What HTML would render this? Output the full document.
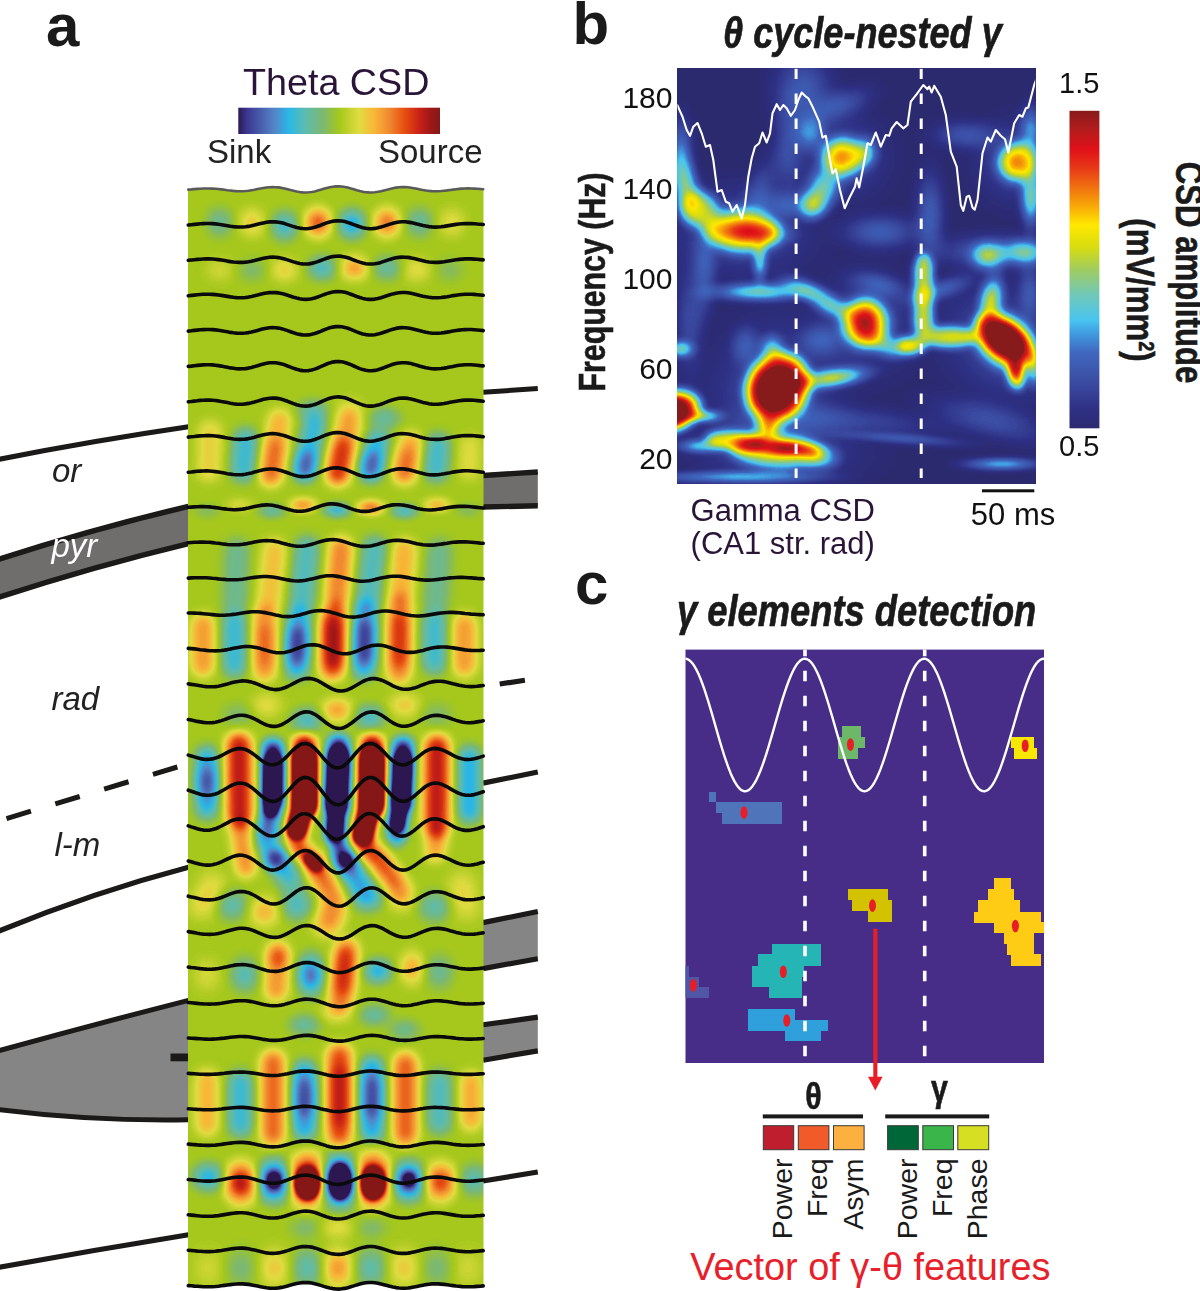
<!DOCTYPE html>
<html><head><meta charset="utf-8"><title>figure</title>
<style>
html,body{margin:0;padding:0;background:#fff;}
body{width:1200px;height:1291px;overflow:hidden;font-family:"Liberation Sans",sans-serif;}
svg{display:block;position:absolute;left:0;top:0;}
text{font-family:"Liberation Sans",sans-serif;}
</style></head><body>
<svg width="1200" height="1291" viewBox="0 0 1200 1291">
<defs>
<filter id="jetA" filterUnits="userSpaceOnUse" x="148.0" y="140.0" width="375.5" height="1195.0" color-interpolation-filters="sRGB">
<feGaussianBlur stdDeviation="1.0"/>
<feComponentTransfer><feFuncR type="table" tableValues="0.176 0.176 0.176 0.176 0.176 0.176 0.176 0.176 0.176 0.176 0.176 0.176 0.176 0.176 0.176 0.176 0.176 0.176 0.176 0.176 0.176 0.176 0.176 0.176 0.176 0.176 0.176 0.176 0.176 0.176 0.176 0.176 0.176 0.176 0.176 0.176 0.176 0.176 0.176 0.176 0.176 0.176 0.176 0.176 0.176 0.176 0.176 0.176 0.176 0.176 0.176 0.189 0.202 0.215 0.227 0.235 0.243 0.250 0.258 0.265 0.273 0.280 0.288 0.296 0.303 0.311 0.318 0.326 0.333 0.308 0.283 0.258 0.232 0.207 0.182 0.157 0.182 0.208 0.233 0.259 0.284 0.310 0.335 0.361 0.375 0.390 0.404 0.418 0.433 0.447 0.461 0.476 0.490 0.509 0.528 0.548 0.567 0.586 0.605 0.624 0.643 0.667 0.690 0.714 0.737 0.761 0.784 0.808 0.831 0.855 0.878 0.892 0.905 0.919 0.932 0.946 0.959 0.973 0.969 0.965 0.961 0.957 0.953 0.949 0.945 0.941 0.937 0.932 0.928 0.923 0.919 0.914 0.910 0.894 0.878 0.863 0.847 0.831 0.816 0.800 0.784 0.753 0.722 0.690 0.659 0.627 0.607 0.587 0.566 0.546 0.525 0.525 0.525 0.525 0.525 0.525 0.525 0.525 0.525 0.525 0.525 0.525 0.525 0.525 0.525 0.525 0.525 0.525 0.525 0.525 0.525 0.525 0.525 0.525 0.525 0.525 0.525 0.525 0.525 0.525 0.525 0.525 0.525 0.525 0.525 0.525 0.525 0.525 0.525 0.525 0.525 0.525 0.525 0.525 0.525 0.525 0.525 0.525 0.525 0.525 0.525"/><feFuncG type="table" tableValues="0.094 0.094 0.094 0.094 0.094 0.094 0.094 0.094 0.094 0.094 0.094 0.094 0.094 0.094 0.094 0.094 0.094 0.094 0.094 0.094 0.094 0.094 0.094 0.094 0.094 0.094 0.094 0.094 0.094 0.094 0.094 0.094 0.094 0.094 0.094 0.094 0.094 0.094 0.094 0.094 0.094 0.094 0.094 0.094 0.094 0.094 0.094 0.094 0.094 0.094 0.094 0.123 0.151 0.179 0.208 0.230 0.253 0.275 0.297 0.320 0.342 0.365 0.387 0.410 0.432 0.454 0.477 0.499 0.522 0.550 0.579 0.607 0.636 0.664 0.693 0.722 0.724 0.725 0.727 0.729 0.731 0.733 0.735 0.737 0.736 0.734 0.732 0.730 0.729 0.727 0.725 0.723 0.722 0.729 0.737 0.745 0.753 0.761 0.769 0.776 0.784 0.792 0.800 0.808 0.816 0.824 0.831 0.839 0.847 0.855 0.863 0.843 0.822 0.802 0.782 0.762 0.742 0.722 0.698 0.675 0.651 0.627 0.604 0.580 0.557 0.533 0.502 0.471 0.439 0.408 0.376 0.345 0.314 0.290 0.267 0.243 0.220 0.196 0.173 0.149 0.125 0.119 0.113 0.107 0.100 0.094 0.094 0.094 0.094 0.094 0.094 0.094 0.094 0.094 0.094 0.094 0.094 0.094 0.094 0.094 0.094 0.094 0.094 0.094 0.094 0.094 0.094 0.094 0.094 0.094 0.094 0.094 0.094 0.094 0.094 0.094 0.094 0.094 0.094 0.094 0.094 0.094 0.094 0.094 0.094 0.094 0.094 0.094 0.094 0.094 0.094 0.094 0.094 0.094 0.094 0.094 0.094 0.094 0.094 0.094 0.094"/><feFuncB type="table" tableValues="0.314 0.314 0.314 0.314 0.314 0.314 0.314 0.314 0.314 0.314 0.314 0.314 0.314 0.314 0.314 0.314 0.314 0.314 0.314 0.314 0.314 0.314 0.314 0.314 0.314 0.314 0.314 0.314 0.314 0.314 0.314 0.314 0.314 0.314 0.314 0.314 0.314 0.314 0.314 0.314 0.314 0.314 0.314 0.314 0.314 0.314 0.314 0.314 0.314 0.314 0.314 0.376 0.439 0.502 0.565 0.580 0.596 0.612 0.627 0.643 0.659 0.675 0.690 0.706 0.722 0.737 0.753 0.769 0.784 0.802 0.820 0.838 0.856 0.874 0.892 0.910 0.882 0.855 0.827 0.800 0.773 0.745 0.718 0.690 0.662 0.634 0.607 0.579 0.551 0.523 0.495 0.467 0.439 0.398 0.357 0.316 0.275 0.233 0.192 0.151 0.110 0.124 0.138 0.152 0.166 0.180 0.195 0.209 0.223 0.237 0.251 0.246 0.242 0.238 0.233 0.229 0.224 0.220 0.216 0.212 0.208 0.204 0.200 0.196 0.192 0.188 0.170 0.152 0.134 0.117 0.099 0.081 0.063 0.067 0.071 0.075 0.078 0.082 0.086 0.090 0.094 0.094 0.094 0.094 0.094 0.094 0.094 0.094 0.094 0.094 0.094 0.094 0.094 0.094 0.094 0.094 0.094 0.094 0.094 0.094 0.094 0.094 0.094 0.094 0.094 0.094 0.094 0.094 0.094 0.094 0.094 0.094 0.094 0.094 0.094 0.094 0.094 0.094 0.094 0.094 0.094 0.094 0.094 0.094 0.094 0.094 0.094 0.094 0.094 0.094 0.094 0.094 0.094 0.094 0.094 0.094 0.094 0.094 0.094 0.094 0.094"/></feComponentTransfer>
</filter>
<filter id="blur5" filterUnits="userSpaceOnUse" x="148.0" y="140.0" width="375.5" height="1195.0" color-interpolation-filters="sRGB"><feGaussianBlur stdDeviation="6"/></filter>
<filter id="blur3" filterUnits="userSpaceOnUse" x="148.0" y="140.0" width="375.5" height="1195.0" color-interpolation-filters="sRGB"><feGaussianBlur stdDeviation="3.6"/></filter>
<radialGradient id="gk"><stop offset="0.0" stop-color="#000" stop-opacity="1.000"/><stop offset="0.1" stop-color="#000" stop-opacity="0.970"/><stop offset="0.2" stop-color="#000" stop-opacity="0.886"/><stop offset="0.3" stop-color="#000" stop-opacity="0.761"/><stop offset="0.4" stop-color="#000" stop-opacity="0.613"/><stop offset="0.5" stop-color="#000" stop-opacity="0.461"/><stop offset="0.6" stop-color="#000" stop-opacity="0.321"/><stop offset="0.7" stop-color="#000" stop-opacity="0.202"/><stop offset="0.8" stop-color="#000" stop-opacity="0.111"/><stop offset="0.9" stop-color="#000" stop-opacity="0.045"/><stop offset="1.0" stop-color="#000" stop-opacity="0.000"/></radialGradient>
<clipPath id="clipa"><path d="M188.0 189.6 191.0 189.4 194.0 189.1 197.0 188.9 200.1 188.7 203.1 188.6 206.1 188.5 209.1 188.5 212.1 188.5 215.1 188.7 218.2 189.0 221.2 189.3 224.2 189.7 227.2 190.1 230.2 190.5 233.2 190.8 236.2 191.1 239.3 191.2 242.3 191.2 245.3 191.0 248.3 190.7 251.3 190.3 254.3 189.7 257.4 189.1 260.4 188.5 263.4 188.0 266.4 187.5 269.4 187.2 272.4 187.1 275.4 187.1 278.5 187.4 281.5 187.9 284.5 188.5 287.5 189.2 290.5 190.0 293.5 190.8 296.6 191.5 299.6 192.0 302.6 192.4 305.6 192.5 308.6 192.3 311.6 192.0 314.6 191.4 317.7 190.6 320.7 189.7 323.7 188.8 326.7 188.0 329.7 187.3 332.7 186.7 335.7 186.4 338.8 186.3 341.8 186.5 344.8 187.0 347.8 187.6 350.8 188.4 353.8 189.3 356.9 190.2 359.9 191.0 362.9 191.7 365.9 192.2 368.9 192.4 371.9 192.5 374.9 192.2 378.0 191.8 381.0 191.2 384.0 190.4 387.0 189.6 390.0 188.9 393.0 188.2 396.1 187.6 399.1 187.3 402.1 187.1 405.1 187.1 408.1 187.3 411.1 187.7 414.1 188.2 417.2 188.8 420.2 189.4 423.2 190.0 426.2 190.5 429.2 190.9 432.2 191.1 435.3 191.2 438.3 191.2 441.3 191.0 444.3 190.7 447.3 190.3 450.3 189.9 453.3 189.5 456.4 189.2 459.4 188.8 462.4 188.6 465.4 188.5 468.4 188.4 471.4 188.5 474.5 188.6 477.5 188.8 480.5 189.0 483.5 189.3 L483.5 1286.5 480.5 1286.8 477.5 1287.0 474.5 1287.2 471.4 1287.3 468.4 1287.4 465.4 1287.3 462.4 1287.2 459.4 1287.0 456.4 1286.6 453.3 1286.2 450.3 1285.8 447.3 1285.4 444.3 1285.0 441.3 1284.7 438.3 1284.5 435.3 1284.4 432.2 1284.5 429.2 1284.8 426.2 1285.2 423.2 1285.7 420.2 1286.3 417.2 1287.0 414.1 1287.6 411.1 1288.1 408.1 1288.5 405.1 1288.8 402.1 1288.8 399.1 1288.6 396.1 1288.2 393.0 1287.7 390.0 1286.9 387.0 1286.1 384.0 1285.3 381.0 1284.5 378.0 1283.8 374.9 1283.4 371.9 1283.1 368.9 1283.1 365.9 1283.4 362.9 1283.9 359.9 1284.6 356.9 1285.5 353.8 1286.5 350.8 1287.4 347.8 1288.3 344.8 1289.0 341.8 1289.4 338.8 1289.7 335.7 1289.6 332.7 1289.2 329.7 1288.6 326.7 1287.9 323.7 1287.0 320.7 1286.0 317.7 1285.1 314.6 1284.3 311.6 1283.6 308.6 1283.2 305.6 1283.1 302.6 1283.2 299.6 1283.6 296.6 1284.1 293.5 1284.9 290.5 1285.7 287.5 1286.5 284.5 1287.3 281.5 1288.0 278.5 1288.5 275.4 1288.8 272.4 1288.8 269.4 1288.7 266.4 1288.4 263.4 1287.9 260.4 1287.3 257.4 1286.7 254.3 1286.0 251.3 1285.4 248.3 1285.0 245.3 1284.6 242.3 1284.5 239.3 1284.4 236.2 1284.6 233.2 1284.8 230.2 1285.2 227.2 1285.6 224.2 1286.0 221.2 1286.4 218.2 1286.8 215.1 1287.1 212.1 1287.3 209.1 1287.4 206.1 1287.4 203.1 1287.3 200.1 1287.1 197.0 1286.9 194.0 1286.6 191.0 1286.4 188.0 1286.1Z"/></clipPath>
<linearGradient id="cbA" x1="0" y1="0" x2="1" y2="0"><stop offset="0.000" stop-color="#2d1850"/><stop offset="0.040" stop-color="#3a3590"/><stop offset="0.180" stop-color="#5585c8"/><stop offset="0.250" stop-color="#28b8e8"/><stop offset="0.330" stop-color="#5cbcb0"/><stop offset="0.420" stop-color="#7db870"/><stop offset="0.500" stop-color="#a4c81c"/><stop offset="0.600" stop-color="#e0dc40"/><stop offset="0.670" stop-color="#f8b838"/><stop offset="0.750" stop-color="#f08830"/><stop offset="0.820" stop-color="#e85010"/><stop offset="0.900" stop-color="#c82018"/><stop offset="0.950" stop-color="#a01818"/><stop offset="1.000" stop-color="#861818"/></linearGradient>
<filter id="jetB" filterUnits="userSpaceOnUse" x="647.5" y="38.7" width="417.70000000000005" height="474.90000000000003" color-interpolation-filters="sRGB">
<feGaussianBlur stdDeviation="1.6"/>
<feComponentTransfer><feFuncR type="table" tableValues="0.169 0.173 0.176 0.180 0.192 0.204 0.216 0.227 0.232 0.237 0.242 0.246 0.251 0.251 0.251 0.251 0.267 0.282 0.322 0.361 0.400 0.439 0.486 0.533 0.580 0.627 0.690 0.753 0.816 0.869 0.913 0.956 1.000 0.991 0.982 0.973 0.962 0.952 0.941 0.931 0.920 0.910 0.899 0.889 0.878 0.821 0.763 0.706 0.648 0.591 0.533 0.533 0.533 0.533 0.533 0.533 0.533 0.533 0.533 0.533 0.533 0.533 0.533 0.533 0.533 0.533 0.533 0.533 0.533 0.533 0.533 0.533 0.533 0.533 0.533 0.533 0.533 0.533 0.533 0.533 0.533 0.533 0.533 0.533 0.533 0.533 0.533 0.533 0.533 0.533 0.533 0.533 0.533 0.533 0.533 0.533 0.533 0.533 0.533 0.533 0.533"/><feFuncG type="table" tableValues="0.165 0.173 0.180 0.188 0.214 0.239 0.265 0.290 0.314 0.337 0.361 0.384 0.408 0.476 0.544 0.612 0.690 0.769 0.773 0.776 0.780 0.784 0.788 0.792 0.796 0.800 0.818 0.836 0.854 0.869 0.883 0.896 0.910 0.826 0.742 0.659 0.586 0.512 0.439 0.366 0.293 0.220 0.167 0.115 0.063 0.078 0.094 0.110 0.107 0.105 0.102 0.102 0.102 0.102 0.102 0.102 0.102 0.102 0.102 0.102 0.102 0.102 0.102 0.102 0.102 0.102 0.102 0.102 0.102 0.102 0.102 0.102 0.102 0.102 0.102 0.102 0.102 0.102 0.102 0.102 0.102 0.102 0.102 0.102 0.102 0.102 0.102 0.102 0.102 0.102 0.102 0.102 0.102 0.102 0.102 0.102 0.102 0.102 0.102 0.102 0.102"/><feFuncB type="table" tableValues="0.439 0.465 0.492 0.518 0.545 0.573 0.600 0.627 0.653 0.678 0.703 0.728 0.753 0.795 0.837 0.878 0.910 0.941 0.886 0.831 0.776 0.722 0.635 0.549 0.463 0.376 0.287 0.197 0.108 0.054 0.036 0.018 0.000 0.010 0.021 0.031 0.042 0.052 0.063 0.073 0.084 0.094 0.094 0.094 0.094 0.099 0.105 0.110 0.107 0.105 0.102 0.102 0.102 0.102 0.102 0.102 0.102 0.102 0.102 0.102 0.102 0.102 0.102 0.102 0.102 0.102 0.102 0.102 0.102 0.102 0.102 0.102 0.102 0.102 0.102 0.102 0.102 0.102 0.102 0.102 0.102 0.102 0.102 0.102 0.102 0.102 0.102 0.102 0.102 0.102 0.102 0.102 0.102 0.102 0.102 0.102 0.102 0.102 0.102 0.102 0.102"/></feComponentTransfer>
</filter>
<filter id="blurB8" filterUnits="userSpaceOnUse" x="637.5" y="28.700000000000003" width="437.70000000000005" height="494.90000000000003" color-interpolation-filters="sRGB"><feGaussianBlur stdDeviation="6"/></filter>
<filter id="blurB4" filterUnits="userSpaceOnUse" x="637.5" y="28.700000000000003" width="437.70000000000005" height="494.90000000000003" color-interpolation-filters="sRGB"><feGaussianBlur stdDeviation="4"/></filter>
<radialGradient id="gw"><stop offset="0.0" stop-color="#fff" stop-opacity="1.000"/><stop offset="0.1" stop-color="#fff" stop-opacity="0.970"/><stop offset="0.2" stop-color="#fff" stop-opacity="0.886"/><stop offset="0.3" stop-color="#fff" stop-opacity="0.761"/><stop offset="0.4" stop-color="#fff" stop-opacity="0.613"/><stop offset="0.5" stop-color="#fff" stop-opacity="0.461"/><stop offset="0.6" stop-color="#fff" stop-opacity="0.321"/><stop offset="0.7" stop-color="#fff" stop-opacity="0.202"/><stop offset="0.8" stop-color="#fff" stop-opacity="0.111"/><stop offset="0.9" stop-color="#fff" stop-opacity="0.045"/><stop offset="1.0" stop-color="#fff" stop-opacity="0.000"/></radialGradient>
<clipPath id="clipb"><rect x="677.5" y="68.7" width="357.70000000000005" height="414.90000000000003"/></clipPath>
<linearGradient id="cbB" x1="0" y1="0" x2="0" y2="1"><stop offset="0.000" stop-color="#881a1a"/><stop offset="0.060" stop-color="#b41c1c"/><stop offset="0.120" stop-color="#e01018"/><stop offset="0.180" stop-color="#e83818"/><stop offset="0.240" stop-color="#f07010"/><stop offset="0.300" stop-color="#f8a808"/><stop offset="0.360" stop-color="#ffe800"/><stop offset="0.430" stop-color="#d8dc10"/><stop offset="0.500" stop-color="#a0cc60"/><stop offset="0.580" stop-color="#70c8b8"/><stop offset="0.660" stop-color="#48c4f0"/><stop offset="0.700" stop-color="#409ce0"/><stop offset="0.760" stop-color="#4068c0"/><stop offset="0.860" stop-color="#3a4aa0"/><stop offset="0.940" stop-color="#2e3084"/><stop offset="1.000" stop-color="#2b2a70"/></linearGradient>
</defs>
<rect x="0" y="0" width="1200" height="1291" fill="#ffffff"/>
<g id="anat">
<path d="M-2 459.5 Q93.25 440.75 188.5 426.8" fill="none" stroke="#1c1a18" stroke-width="5.2" stroke-linecap="butt"/>
<path d="M-2 559.5 Q93.25 528.95 188.5 506.4 L188.5 543.6 Q93.25 566.55 -2 597.5 Z" fill="#6f6e6c"/><path d="M-2 559.5 Q93.25 528.95 188.5 506.4" fill="none" stroke="#1c1a18" stroke-width="5.6"/><path d="M-2 597.5 Q93.25 566.55 188.5 543.6" fill="none" stroke="#1c1a18" stroke-width="5.6"/>
<path d="M6.5 818.6 L177.7 766.9" fill="none" stroke="#1c1a18" stroke-width="5.0" stroke-dasharray="25.5 25.5"/>
<path d="M-2 931.5 Q93.25 892.15 188.5 867.2" fill="none" stroke="#1c1a18" stroke-width="5.2" stroke-linecap="butt"/>
<path d="M-2 1051 Q93.25 1024.65 188.5 1000.3 L188.5 1119.8 Q93.25 1121.45 -2 1109.5 Z" fill="#858585"/><path d="M-2 1051 Q93.25 1024.65 188.5 1000.3" fill="none" stroke="#1c1a18" stroke-width="5"/><path d="M-2 1109.5 Q93.25 1121.45 188.5 1119.8" fill="none" stroke="#1c1a18" stroke-width="5"/>
<rect x="170.5" y="1053.5" width="18" height="7.8" fill="#1c1a18"/>
<path d="M-2 1267.5 Q93.25 1250.1 188.5 1234.7" fill="none" stroke="#1c1a18" stroke-width="5.2" stroke-linecap="butt"/>
<path d="M483 392.3 Q510.4 390.45000000000005 537.8 388.6" fill="none" stroke="#1c1a18" stroke-width="5" stroke-linecap="butt"/>
<path d="M483 475.5 Q510.4 473.75 537.8 472 L537.8 505.8 Q510.4 506.4 483 507 Z" fill="#6f6e6c"/><path d="M483 475.5 Q510.4 473.75 537.8 472" fill="none" stroke="#1c1a18" stroke-width="5.4"/><path d="M483 507 Q510.4 506.4 537.8 505.8" fill="none" stroke="#1c1a18" stroke-width="5.4"/>
<path d="M499.7 684 Q512.3 682.15 524.9 680.3" fill="none" stroke="#1c1a18" stroke-width="5.2" stroke-linecap="butt"/>
<path d="M483 783.1 Q510.4 777.55 537.8 772" fill="none" stroke="#1c1a18" stroke-width="5.2" stroke-linecap="butt"/>
<path d="M483 922.6 Q510.4 917.05 537.8 911.5 L537.8 958.7 Q510.4 963.6500000000001 483 968.6 Z" fill="#858585"/><path d="M483 922.6 Q510.4 917.05 537.8 911.5" fill="none" stroke="#1c1a18" stroke-width="5.2"/><path d="M483 968.6 Q510.4 963.6500000000001 537.8 958.7" fill="none" stroke="#1c1a18" stroke-width="5.2"/>
<path d="M483 1024.8 Q510.4 1020.95 537.8 1017.1 L537.8 1050.9 Q510.4 1055.5500000000002 483 1060.2 Z" fill="#858585"/><path d="M483 1024.8 Q510.4 1020.95 537.8 1017.1" fill="none" stroke="#1c1a18" stroke-width="5.2"/><path d="M483 1060.2 Q510.4 1055.5500000000002 537.8 1050.9" fill="none" stroke="#1c1a18" stroke-width="5.2"/>
<path d="M483 1181 Q510.4 1176.5 537.8 1172" fill="none" stroke="#1c1a18" stroke-width="5.2" stroke-linecap="butt"/>
</g>
<g id="panela" clip-path="url(#clipa)">
<g filter="url(#jetA)">
<rect x="148.0" y="140.0" width="375.5" height="1195.0" fill="#808080"/>
<ellipse cx="219.5" cy="222.5" rx="22.6" ry="25.0" fill="url(#gk)" opacity="0.130"/>
<ellipse cx="252.0" cy="222.5" rx="22.6" ry="25.0" fill="url(#gw)" opacity="0.130"/>
<ellipse cx="284.5" cy="226.0" rx="22.6" ry="25.0" fill="url(#gk)" opacity="0.208"/>
<ellipse cx="318.0" cy="222.5" rx="22.6" ry="25.0" fill="url(#gw)" opacity="0.300"/>
<ellipse cx="352.0" cy="224.0" rx="22.6" ry="25.0" fill="url(#gk)" opacity="0.270"/>
<ellipse cx="387.0" cy="222.5" rx="22.6" ry="25.0" fill="url(#gw)" opacity="0.260"/>
<ellipse cx="419.5" cy="222.5" rx="22.6" ry="25.0" fill="url(#gk)" opacity="0.143"/>
<ellipse cx="452.0" cy="222.5" rx="22.6" ry="25.0" fill="url(#gw)" opacity="0.098"/>
<ellipse cx="322.0" cy="268.0" rx="23.8" ry="21.4" fill="url(#gk)" opacity="0.195"/>
<ellipse cx="354.5" cy="268.0" rx="23.8" ry="21.4" fill="url(#gw)" opacity="0.200"/>
<ellipse cx="387.0" cy="268.0" rx="23.8" ry="21.4" fill="url(#gk)" opacity="0.143"/>
<ellipse cx="284.5" cy="270.0" rx="23.8" ry="21.4" fill="url(#gw)" opacity="0.117"/>
<ellipse cx="252.0" cy="270.0" rx="23.8" ry="21.4" fill="url(#gk)" opacity="0.078"/>
<ellipse cx="417.0" cy="270.0" rx="23.8" ry="21.4" fill="url(#gw)" opacity="0.098"/>
<ellipse cx="219.5" cy="270.0" rx="23.8" ry="21.4" fill="url(#gw)" opacity="0.065"/>
<ellipse cx="450.0" cy="270.0" rx="23.8" ry="21.4" fill="url(#gk)" opacity="0.065"/>
<ellipse cx="313.0" cy="410.0" rx="26.2" ry="19.0" fill="url(#gk)" opacity="0.143"/>
<ellipse cx="385.0" cy="418.0" rx="26.2" ry="19.0" fill="url(#gk)" opacity="0.143"/>
<ellipse cx="349.5" cy="408.0" rx="26.2" ry="19.0" fill="url(#gw)" opacity="0.078"/>
<ellipse cx="303.0" cy="505.0" rx="22.6" ry="13.1" fill="url(#gw)" opacity="0.210"/>
<ellipse cx="337.0" cy="510.0" rx="22.6" ry="13.1" fill="url(#gk)" opacity="0.225"/>
<ellipse cx="370.7" cy="507.5" rx="22.6" ry="13.1" fill="url(#gw)" opacity="0.260"/>
<ellipse cx="404.5" cy="511.0" rx="22.6" ry="13.1" fill="url(#gk)" opacity="0.195"/>
<ellipse cx="437.0" cy="505.0" rx="22.6" ry="13.1" fill="url(#gw)" opacity="0.163"/>
<ellipse cx="272.0" cy="511.0" rx="22.6" ry="13.1" fill="url(#gk)" opacity="0.143"/>
<ellipse cx="239.5" cy="505.0" rx="22.6" ry="13.1" fill="url(#gw)" opacity="0.078"/>
<ellipse cx="207.0" cy="511.0" rx="22.6" ry="13.1" fill="url(#gk)" opacity="0.065"/>
<ellipse cx="468.0" cy="510.0" rx="22.6" ry="13.1" fill="url(#gk)" opacity="0.065"/>
<ellipse cx="337.0" cy="710.0" rx="26.2" ry="21.4" fill="url(#gw)" opacity="0.195"/>
<ellipse cx="404.5" cy="705.0" rx="26.2" ry="21.4" fill="url(#gw)" opacity="0.130"/>
<ellipse cx="307.0" cy="720.0" rx="26.2" ry="21.4" fill="url(#gk)" opacity="0.195"/>
<ellipse cx="369.5" cy="717.0" rx="26.2" ry="21.4" fill="url(#gk)" opacity="0.195"/>
<ellipse cx="267.0" cy="705.0" rx="26.2" ry="21.4" fill="url(#gw)" opacity="0.098"/>
<ellipse cx="237.0" cy="715.0" rx="26.2" ry="21.4" fill="url(#gk)" opacity="0.078"/>
<ellipse cx="437.0" cy="715.0" rx="26.2" ry="21.4" fill="url(#gk)" opacity="0.078"/>
<ellipse cx="207.0" cy="782.0" rx="19.0" ry="28.6" fill="url(#gk)" opacity="0.195"/>
<ellipse cx="304.5" cy="744.0" rx="21.4" ry="19.0" fill="url(#gw)" opacity="0.275"/>
<ellipse cx="372.0" cy="744.0" rx="21.4" ry="19.0" fill="url(#gw)" opacity="0.275"/>
<ellipse cx="338.5" cy="744.0" rx="20.2" ry="19.0" fill="url(#gk)" opacity="0.250"/>
<ellipse cx="403.0" cy="747.0" rx="19.0" ry="19.0" fill="url(#gk)" opacity="0.225"/>
<ellipse cx="273.0" cy="749.0" rx="19.0" ry="19.0" fill="url(#gk)" opacity="0.225"/>
<ellipse cx="299.0" cy="847.0" rx="19.0" ry="21.4" fill="url(#gw)" opacity="0.300" transform="rotate(-30 299 847)"/>
<ellipse cx="313.0" cy="862.0" rx="21.4" ry="23.8" fill="url(#gw)" opacity="0.275" transform="rotate(-40 313 862)"/>
<ellipse cx="344.5" cy="860.0" rx="21.4" ry="23.8" fill="url(#gk)" opacity="0.450" transform="rotate(-35 344.5 860)"/>
<ellipse cx="275.5" cy="859.0" rx="20.2" ry="20.2" fill="url(#gk)" opacity="0.400" transform="rotate(-30 275.5 859)"/>
<ellipse cx="322.0" cy="878.0" rx="21.4" ry="28.6" fill="url(#gw)" opacity="0.250" transform="rotate(-35 322 878)"/>
<ellipse cx="333.0" cy="900.0" rx="23.8" ry="31.0" fill="url(#gw)" opacity="0.225" transform="rotate(-20 333 900)"/>
<ellipse cx="328.0" cy="922.0" rx="26.2" ry="26.2" fill="url(#gw)" opacity="0.208"/>
<ellipse cx="339.0" cy="846.0" rx="14.3" ry="19.0" fill="url(#gk)" opacity="0.300" transform="rotate(-20 339 846)"/>
<ellipse cx="356.0" cy="878.0" rx="23.8" ry="28.6" fill="url(#gk)" opacity="0.275" transform="rotate(-35 356 878)"/>
<ellipse cx="367.5" cy="897.0" rx="26.2" ry="23.8" fill="url(#gk)" opacity="0.250"/>
<ellipse cx="366.0" cy="846.0" rx="19.0" ry="21.4" fill="url(#gw)" opacity="0.275" transform="rotate(-20 366 846)"/>
<ellipse cx="376.0" cy="857.0" rx="21.4" ry="23.8" fill="url(#gw)" opacity="0.250" transform="rotate(-35 376 857)"/>
<ellipse cx="386.0" cy="869.0" rx="21.4" ry="26.2" fill="url(#gw)" opacity="0.210" transform="rotate(-35 386 869)"/>
<ellipse cx="394.0" cy="881.0" rx="21.4" ry="26.2" fill="url(#gw)" opacity="0.180" transform="rotate(-35 394 881)"/>
<ellipse cx="401.0" cy="895.0" rx="23.8" ry="26.2" fill="url(#gw)" opacity="0.170"/>
<ellipse cx="268.0" cy="826.0" rx="19.0" ry="23.8" fill="url(#gk)" opacity="0.300" transform="rotate(-10 268 826)"/>
<ellipse cx="266.0" cy="842.0" rx="23.8" ry="26.2" fill="url(#gk)" opacity="0.225" transform="rotate(-30 266 842)"/>
<ellipse cx="287.0" cy="874.0" rx="23.8" ry="33.3" fill="url(#gk)" opacity="0.225" transform="rotate(-30 287 874)"/>
<ellipse cx="397.0" cy="836.0" rx="16.7" ry="19.0" fill="url(#gk)" opacity="0.250"/>
<ellipse cx="212.0" cy="887.0" rx="26.2" ry="28.6" fill="url(#gw)" opacity="0.098"/>
<ellipse cx="462.0" cy="887.0" rx="26.2" ry="28.6" fill="url(#gw)" opacity="0.098"/>
<ellipse cx="297.0" cy="905.0" rx="26.2" ry="26.2" fill="url(#gk)" opacity="0.195"/>
<ellipse cx="264.5" cy="912.0" rx="26.2" ry="26.2" fill="url(#gw)" opacity="0.163"/>
<ellipse cx="232.0" cy="905.0" rx="26.2" ry="26.2" fill="url(#gk)" opacity="0.163"/>
<ellipse cx="434.5" cy="907.0" rx="26.2" ry="26.2" fill="url(#gk)" opacity="0.163"/>
<ellipse cx="202.0" cy="905.0" rx="26.2" ry="26.2" fill="url(#gw)" opacity="0.098"/>
<ellipse cx="467.0" cy="907.0" rx="26.2" ry="26.2" fill="url(#gw)" opacity="0.078"/>
<ellipse cx="310.7" cy="975.0" rx="22.6" ry="33.3" fill="url(#gk)" opacity="0.350"/>
<ellipse cx="378.0" cy="971.0" rx="23.8" ry="21.4" fill="url(#gk)" opacity="0.250"/>
<ellipse cx="278.0" cy="958.0" rx="19.0" ry="19.0" fill="url(#gw)" opacity="0.130"/>
<ellipse cx="412.0" cy="968.0" rx="21.4" ry="28.6" fill="url(#gw)" opacity="0.175"/>
<ellipse cx="244.5" cy="975.0" rx="23.8" ry="28.6" fill="url(#gk)" opacity="0.182"/>
<ellipse cx="439.5" cy="972.0" rx="23.8" ry="28.6" fill="url(#gk)" opacity="0.130"/>
<ellipse cx="207.0" cy="975.0" rx="23.8" ry="28.6" fill="url(#gw)" opacity="0.078"/>
<ellipse cx="337.0" cy="1012.0" rx="26.2" ry="19.0" fill="url(#gw)" opacity="0.130"/>
<ellipse cx="304.5" cy="1025.0" rx="26.2" ry="19.0" fill="url(#gk)" opacity="0.143"/>
<ellipse cx="374.5" cy="1015.0" rx="26.2" ry="19.0" fill="url(#gk)" opacity="0.143"/>
<ellipse cx="404.5" cy="1030.0" rx="26.2" ry="19.0" fill="url(#gk)" opacity="0.117"/>
<ellipse cx="307.5" cy="1180.0" rx="28.6" ry="40.5" fill="url(#gw)" opacity="0.550"/>
<ellipse cx="373.0" cy="1180.0" rx="28.6" ry="40.5" fill="url(#gw)" opacity="0.550"/>
<ellipse cx="340.0" cy="1181.0" rx="28.6" ry="40.5" fill="url(#gk)" opacity="0.550"/>
<ellipse cx="274.0" cy="1181.0" rx="26.2" ry="33.3" fill="url(#gk)" opacity="0.475"/>
<ellipse cx="408.7" cy="1181.0" rx="26.2" ry="31.0" fill="url(#gk)" opacity="0.450"/>
<ellipse cx="240.7" cy="1183.0" rx="26.2" ry="33.3" fill="url(#gw)" opacity="0.425"/>
<ellipse cx="440.7" cy="1182.0" rx="26.2" ry="31.0" fill="url(#gw)" opacity="0.340"/>
<ellipse cx="208.0" cy="1177.0" rx="26.2" ry="23.8" fill="url(#gk)" opacity="0.250"/>
<ellipse cx="474.5" cy="1180.0" rx="26.2" ry="26.2" fill="url(#gk)" opacity="0.175"/>
<ellipse cx="337.8" cy="1268.0" rx="26.2" ry="33.3" fill="url(#gw)" opacity="0.210"/>
<ellipse cx="307.5" cy="1268.0" rx="26.2" ry="33.3" fill="url(#gk)" opacity="0.165"/>
<ellipse cx="370.8" cy="1268.0" rx="26.2" ry="33.3" fill="url(#gk)" opacity="0.165"/>
<ellipse cx="274.5" cy="1268.0" rx="26.2" ry="33.3" fill="url(#gw)" opacity="0.130"/>
<ellipse cx="403.8" cy="1268.0" rx="26.2" ry="33.3" fill="url(#gw)" opacity="0.130"/>
<ellipse cx="241.0" cy="1268.0" rx="26.2" ry="33.3" fill="url(#gk)" opacity="0.091"/>
<ellipse cx="437.0" cy="1268.0" rx="26.2" ry="33.3" fill="url(#gk)" opacity="0.091"/>
<ellipse cx="208.0" cy="1268.0" rx="26.2" ry="33.3" fill="url(#gw)" opacity="0.065"/>
<ellipse cx="468.0" cy="1268.0" rx="26.2" ry="33.3" fill="url(#gw)" opacity="0.065"/>
<ellipse cx="337.8" cy="1228.0" rx="26.2" ry="19.0" fill="url(#gw)" opacity="0.098"/>
<ellipse cx="305.0" cy="1228.0" rx="26.2" ry="19.0" fill="url(#gk)" opacity="0.078"/>
<ellipse cx="372.0" cy="1228.0" rx="26.2" ry="19.0" fill="url(#gk)" opacity="0.078"/>
<g filter="url(#blur5)" fill="none" stroke-linecap="round" stroke-linejoin="round">
<path d="M349.0 422.0 L338.0 474.0" stroke="#fff" stroke-width="23" opacity="0.215"/>
<path d="M342.0 448.0 L337.5 474.0" stroke="#fff" stroke-width="21" opacity="0.210"/>
<path d="M314.5 425.0 L305.0 470.0" stroke="#000" stroke-width="21" opacity="0.242"/>
<path d="M306.5 460.0 L304.5 471.0" stroke="#000" stroke-width="19" opacity="0.215"/>
<path d="M378.0 440.0 L371.0 470.0" stroke="#000" stroke-width="21" opacity="0.242"/>
<path d="M372.0 460.0 L370.5 471.0" stroke="#000" stroke-width="19" opacity="0.215"/>
<path d="M279.5 420.0 L271.0 475.0" stroke="#fff" stroke-width="22" opacity="0.182"/>
<path d="M275.0 448.0 L271.0 475.0" stroke="#fff" stroke-width="21" opacity="0.140"/>
<path d="M411.0 443.0 L404.5 473.0" stroke="#fff" stroke-width="22" opacity="0.196"/>
<path d="M407.0 458.0 L404.5 473.0" stroke="#fff" stroke-width="21" opacity="0.119"/>
<path d="M245.5 440.0 L243.0 470.0" stroke="#000" stroke-width="23" opacity="0.224"/>
<path d="M210.0 432.0 L209.0 470.0" stroke="#fff" stroke-width="23" opacity="0.126"/>
<path d="M438.0 445.0 L436.0 470.0" stroke="#000" stroke-width="23" opacity="0.210"/>
<path d="M470.0 445.0 L469.0 470.0" stroke="#fff" stroke-width="21" opacity="0.098"/>
<path d="M341.0 548.0 L337.0 596.0" stroke="#fff" stroke-width="22" opacity="0.258"/>
<path d="M307.0 548.0 L302.0 602.0" stroke="#000" stroke-width="23" opacity="0.194"/>
<path d="M374.5 548.0 L368.0 600.0" stroke="#000" stroke-width="23" opacity="0.194"/>
<path d="M274.5 550.0 L269.0 602.0" stroke="#fff" stroke-width="23" opacity="0.154"/>
<path d="M404.5 550.0 L401.0 592.0" stroke="#fff" stroke-width="23" opacity="0.182"/>
<path d="M237.0 550.0 L235.0 602.0" stroke="#000" stroke-width="23" opacity="0.126"/>
<path d="M439.5 550.0 L436.0 602.0" stroke="#000" stroke-width="23" opacity="0.126"/>
<path d="M335.0 614.0 L332.5 668.0" stroke="#fff" stroke-width="24" opacity="0.323"/>
<path d="M331.5 626.0 L333.5 658.0" stroke="#fff" stroke-width="21" opacity="0.215"/>
<path d="M299.0 618.0 L297.0 668.0" stroke="#000" stroke-width="22" opacity="0.269"/>
<path d="M297.0 635.0 L297.0 655.0" stroke="#000" stroke-width="19" opacity="0.269"/>
<path d="M365.5 612.0 L364.0 668.0" stroke="#000" stroke-width="22" opacity="0.269"/>
<path d="M364.5 628.0 L364.5 655.0" stroke="#000" stroke-width="19" opacity="0.269"/>
<path d="M400.0 606.0 L399.0 672.0" stroke="#fff" stroke-width="23" opacity="0.242"/>
<path d="M399.5 622.0 L399.5 658.0" stroke="#fff" stroke-width="20" opacity="0.175"/>
<path d="M265.0 617.0 L264.5 670.0" stroke="#fff" stroke-width="23" opacity="0.215"/>
<path d="M264.5 632.0 L265.0 658.0" stroke="#fff" stroke-width="19" opacity="0.105"/>
<path d="M234.5 622.0 L234.5 665.0" stroke="#000" stroke-width="23" opacity="0.226"/>
<path d="M203.0 625.0 L203.0 665.0" stroke="#fff" stroke-width="23" opacity="0.215"/>
<path d="M434.5 622.0 L434.5 662.0" stroke="#000" stroke-width="23" opacity="0.215"/>
<path d="M464.5 625.0 L464.5 665.0" stroke="#fff" stroke-width="23" opacity="0.215"/>
<path d="M239.0 745.0 L239.5 815.0" stroke="#fff" stroke-width="24" opacity="0.419"/>
<path d="M240.5 828.0 L246.0 868.0" stroke="#fff" stroke-width="19" opacity="0.242"/>
<path d="M437.0 747.0 L436.5 825.0" stroke="#fff" stroke-width="24" opacity="0.419"/>
<path d="M436.5 838.0 L435.0 852.0" stroke="#fff" stroke-width="19" opacity="0.215"/>
<path d="M207.0 757.0 L207.0 808.0" stroke="#000" stroke-width="21" opacity="0.269"/>
<path d="M469.5 757.0 L469.5 812.0" stroke="#000" stroke-width="21" opacity="0.269"/>
<path d="M304.5 746.0 L304.5 800.0" stroke="#fff" stroke-width="15" opacity="0.538"/>
<path d="M304.5 800.0 L296.5 832.0" stroke="#fff" stroke-width="14" opacity="0.538"/>
<path d="M338.5 746.0 L336.5 800.0" stroke="#000" stroke-width="14" opacity="0.538"/>
<path d="M336.5 800.0 L335.0 836.0" stroke="#000" stroke-width="13" opacity="0.538"/>
<path d="M372.0 746.0 L371.5 800.0" stroke="#fff" stroke-width="15" opacity="0.538"/>
<path d="M371.5 800.0 L362.5 838.0" stroke="#fff" stroke-width="14" opacity="0.538"/>
<path d="M403.0 748.0 L401.0 800.0" stroke="#000" stroke-width="15" opacity="0.538"/>
<path d="M401.0 800.0 L397.0 828.0" stroke="#000" stroke-width="13" opacity="0.538"/>
<path d="M273.0 750.0 L272.5 798.0" stroke="#000" stroke-width="15" opacity="0.538"/>
<path d="M272.5 798.0 L271.0 814.0" stroke="#000" stroke-width="13" opacity="0.538"/>
<path d="M346.5 950.0 L341.0 998.0" stroke="#fff" stroke-width="23" opacity="0.269"/>
<path d="M345.0 958.0 L343.0 985.0" stroke="#fff" stroke-width="19" opacity="0.175"/>
<path d="M278.0 952.0 L276.0 990.0" stroke="#fff" stroke-width="22" opacity="0.226"/>
<path d="M339.5 1056.0 L339.5 1134.0" stroke="#fff" stroke-width="24" opacity="0.333"/>
<path d="M339.5 1075.0 L339.5 1118.0" stroke="#fff" stroke-width="20" opacity="0.140"/>
<path d="M304.5 1072.0 L304.5 1128.0" stroke="#000" stroke-width="22" opacity="0.296"/>
<path d="M304.5 1088.0 L304.5 1108.0" stroke="#000" stroke-width="18" opacity="0.210"/>
<path d="M372.0 1068.0 L372.0 1130.0" stroke="#000" stroke-width="22" opacity="0.296"/>
<path d="M372.0 1085.0 L372.0 1110.0" stroke="#000" stroke-width="18" opacity="0.210"/>
<path d="M273.0 1062.0 L273.0 1134.0" stroke="#fff" stroke-width="23" opacity="0.296"/>
<path d="M405.5 1064.0 L405.5 1134.0" stroke="#fff" stroke-width="23" opacity="0.306"/>
<path d="M240.5 1082.0 L240.5 1125.0" stroke="#000" stroke-width="23" opacity="0.226"/>
<path d="M439.5 1082.0 L439.5 1122.0" stroke="#000" stroke-width="23" opacity="0.194"/>
<path d="M207.0 1080.0 L207.0 1125.0" stroke="#fff" stroke-width="22" opacity="0.177"/>
<path d="M471.0 1082.0 L471.0 1120.0" stroke="#fff" stroke-width="21" opacity="0.196"/>
</g>
<g filter="url(#blur3)" stroke-linecap="round" stroke-linejoin="round">
<path d="M304.5 758 L304.5 806" stroke="#fff" stroke-width="22" fill="none"/>
<path d="M304.5 800 L296.5 830" stroke="#fff" stroke-width="16" fill="none"/>
<path d="M338.5 757 L336.5 806" stroke="#000" stroke-width="19.5" fill="none"/>
<path d="M336.5 800 L335 834" stroke="#000" stroke-width="13" fill="none"/>
<path d="M372 758 L371.5 806" stroke="#fff" stroke-width="22" fill="none"/>
<path d="M371.5 800 L362.5 835" stroke="#fff" stroke-width="16" fill="none"/>
<path d="M403 760 L401 804" stroke="#000" stroke-width="16" fill="none"/>
<path d="M401 800 L397 825" stroke="#000" stroke-width="11" fill="none"/>
<path d="M273 762 L272.5 800" stroke="#000" stroke-width="16" fill="none"/>
<path d="M272.5 796 L271 810" stroke="#000" stroke-width="11" fill="none"/>
<path d="M309 858 L317 866" stroke="#fff" stroke-width="8" fill="none"/>
<path d="M344.5 858.5 L347.5 862.5" stroke="#000" stroke-width="6" fill="none"/>
<ellipse cx="340" cy="1181.5" rx="9.5" ry="17" fill="#000"/>
<ellipse cx="307.5" cy="1183.5" rx="10.5" ry="15" fill="#fff"/>
<ellipse cx="373" cy="1183.5" rx="10" ry="15" fill="#fff"/>
<ellipse cx="274" cy="1180" rx="4" ry="6.5" fill="#000"/>
<ellipse cx="408.7" cy="1179.5" rx="3.5" ry="5" fill="#000"/>
</g>
</g>
</g>
<rect x="238.3" y="107.7" width="201.7" height="26.3" fill="url(#cbA)"/>
<g id="waves" fill="none" stroke-linecap="round" stroke-linejoin="round">
<path d="M188.3 189.6 191.3 189.4 194.3 189.1 197.3 188.9 200.3 188.7 203.3 188.5 206.4 188.5 209.4 188.5 212.4 188.6 215.4 188.7 218.4 189.0 221.4 189.4 224.4 189.8 227.4 190.2 230.4 190.5 233.4 190.9 236.4 191.1 239.5 191.2 242.5 191.2 245.5 191.0 248.5 190.7 251.5 190.2 254.5 189.7 257.5 189.1 260.5 188.5 263.5 188.0 266.5 187.5 269.5 187.2 272.6 187.1 275.6 187.2 278.6 187.4 281.6 187.9 284.6 188.5 287.6 189.3 290.6 190.1 293.6 190.8 296.6 191.5 299.6 192.0 302.6 192.4 305.7 192.5 308.7 192.3 311.7 192.0 314.7 191.4 317.7 190.6 320.7 189.7 323.7 188.8 326.7 188.0 329.7 187.3 332.7 186.7 335.8 186.4 338.8 186.3 341.8 186.5 344.8 187.0 347.8 187.6 350.8 188.4 353.8 189.3 356.8 190.2 359.8 191.0 362.8 191.7 365.8 192.2 368.9 192.4 371.9 192.5 374.9 192.2 377.9 191.8 380.9 191.2 383.9 190.4 386.9 189.7 389.9 188.9 392.9 188.2 395.9 187.6 398.9 187.3 402 187.1 405 187.1 408 187.3 411 187.7 414 188.2 417 188.8 420 189.4 423 190.0 426 190.5 429 190.9 432 191.1 435.1 191.2 438.1 191.2 441.1 191.0 444.1 190.7 447.1 190.4 450.1 190.0 453.1 189.6 456.1 189.2 459.1 188.9 462.1 188.6 465.1 188.5 468.2 188.4 471.2 188.5 474.2 188.6 477.2 188.8 480.2 189.0 483.2 189.2" stroke="#5a5a5a" stroke-width="2.6"/>
<path d="M188.3 225.0 191.3 224.7 194.3 224.4 197.3 224.1 200.3 223.8 203.3 223.6 206.4 223.5 209.4 223.5 212.4 223.6 215.4 223.9 218.4 224.2 221.4 224.7 224.4 225.2 227.4 225.7 230.4 226.2 233.4 226.6 236.4 226.9 239.5 227.0 242.5 227.0 245.5 226.8 248.5 226.4 251.5 225.8 254.5 225.1 257.5 224.3 260.5 223.6 263.5 222.9 266.5 222.3 269.5 221.9 272.6 221.8 275.6 221.9 278.6 222.2 281.6 222.8 284.6 223.6 287.6 224.6 290.6 225.6 293.6 226.6 296.6 227.4 299.6 228.1 302.6 228.5 305.7 228.7 308.7 228.5 311.7 228.0 314.7 227.3 317.7 226.3 320.7 225.2 323.7 224.0 326.7 222.9 329.7 222.0 332.7 221.3 335.8 220.9 338.8 220.8 341.8 221.0 344.8 221.6 347.8 222.4 350.8 223.5 353.8 224.6 356.8 225.7 359.8 226.8 362.8 227.7 365.8 228.3 368.9 228.6 371.9 228.7 374.9 228.4 377.9 227.8 380.9 227.0 383.9 226.1 386.9 225.1 389.9 224.1 392.9 223.2 395.9 222.5 398.9 222.0 402 221.8 405 221.8 408 222.1 411 222.6 414 223.2 417 224.0 420 224.7 423 225.5 426 226.1 429 226.6 432 226.9 435.1 227.1 438.1 227.0 441.1 226.8 444.1 226.4 447.1 225.9 450.1 225.4 453.1 224.9 456.1 224.4 459.1 224.0 462.1 223.7 465.1 223.6 468.2 223.5 471.2 223.6 474.2 223.7 477.2 224.0 480.2 224.2 483.2 224.5" stroke="#0a0a0a" stroke-width="3.6"/>
<path d="M188.3 260.3 191.3 260.0 194.3 259.7 197.3 259.4 200.3 259.2 203.3 259.0 206.4 258.9 209.4 258.9 212.4 259.0 215.4 259.2 218.4 259.6 221.4 260.0 224.4 260.5 227.4 261.1 230.4 261.6 233.4 262.0 236.4 262.3 239.5 262.4 242.5 262.4 245.5 262.1 248.5 261.7 251.5 261.2 254.5 260.5 257.5 259.7 260.5 258.9 263.5 258.2 266.5 257.7 269.5 257.3 272.6 257.1 275.6 257.2 278.6 257.6 281.6 258.2 284.6 259.0 287.6 259.9 290.6 260.9 293.6 261.9 296.6 262.8 299.6 263.5 302.6 263.9 305.7 264.0 308.7 263.9 311.7 263.4 314.7 262.6 317.7 261.6 320.7 260.5 323.7 259.4 326.7 258.3 329.7 257.3 332.7 256.6 335.8 256.2 338.8 256.1 341.8 256.4 344.8 257.0 347.8 257.8 350.8 258.8 353.8 260.0 356.8 261.1 359.8 262.1 362.8 263.0 365.8 263.7 368.9 264.0 371.9 264.0 374.9 263.7 377.9 263.2 380.9 262.4 383.9 261.4 386.9 260.4 389.9 259.4 392.9 258.6 395.9 257.8 398.9 257.4 402 257.1 405 257.2 408 257.4 411 257.9 414 258.6 417 259.3 420 260.1 423 260.8 426 261.5 429 262.0 432 262.3 435.1 262.4 438.1 262.4 441.1 262.1 444.1 261.8 447.1 261.3 450.1 260.8 453.1 260.3 456.1 259.8 459.1 259.4 462.1 259.1 465.1 258.9 468.2 258.9 471.2 258.9 474.2 259.1 477.2 259.3 480.2 259.6 483.2 259.9" stroke="#0a0a0a" stroke-width="3.6"/>
<path d="M188.3 295.7 191.3 295.4 194.3 295.1 197.3 294.8 200.3 294.5 203.3 294.3 206.4 294.2 209.4 294.2 212.4 294.4 215.4 294.6 218.4 295.0 221.4 295.4 224.4 295.9 227.4 296.4 230.4 296.9 233.4 297.3 236.4 297.6 239.5 297.8 242.5 297.7 245.5 297.5 248.5 297.1 251.5 296.5 254.5 295.8 257.5 295.1 260.5 294.3 263.5 293.6 266.5 293.0 269.5 292.6 272.6 292.5 275.6 292.6 278.6 292.9 281.6 293.5 284.6 294.3 287.6 295.3 290.6 296.3 293.6 297.3 296.6 298.1 299.6 298.8 302.6 299.3 305.7 299.4 308.7 299.2 311.7 298.7 314.7 298.0 317.7 297.0 320.7 295.9 323.7 294.7 326.7 293.6 329.7 292.7 332.7 292.0 335.8 291.6 338.8 291.5 341.8 291.7 344.8 292.3 347.8 293.1 350.8 294.2 353.8 295.3 356.8 296.5 359.8 297.5 362.8 298.4 365.8 299.0 368.9 299.4 371.9 299.4 374.9 299.1 377.9 298.5 380.9 297.7 383.9 296.8 386.9 295.8 389.9 294.8 392.9 293.9 395.9 293.2 398.9 292.7 402 292.5 405 292.5 408 292.8 411 293.3 414 293.9 417 294.7 420 295.5 423 296.2 426 296.8 429 297.3 432 297.6 435.1 297.8 438.1 297.7 441.1 297.5 444.1 297.1 447.1 296.7 450.1 296.2 453.1 295.6 456.1 295.2 459.1 294.8 462.1 294.5 465.1 294.3 468.2 294.2 471.2 294.3 474.2 294.4 477.2 294.7 480.2 295.0 483.2 295.3" stroke="#0a0a0a" stroke-width="3.6"/>
<path d="M188.3 331.1 191.3 330.8 194.3 330.4 197.3 330.1 200.3 329.8 203.3 329.6 206.4 329.5 209.4 329.5 212.4 329.6 215.4 329.9 218.4 330.3 221.4 330.7 224.4 331.3 227.4 331.8 230.4 332.4 233.4 332.8 236.4 333.1 239.5 333.3 242.5 333.2 245.5 333.0 248.5 332.6 251.5 332.0 254.5 331.2 257.5 330.4 260.5 329.6 263.5 328.8 266.5 328.2 269.5 327.8 272.6 327.6 275.6 327.7 278.6 328.1 281.6 328.7 284.6 329.6 287.6 330.6 290.6 331.7 293.6 332.8 296.6 333.7 299.6 334.4 302.6 334.9 305.7 335.0 308.7 334.9 311.7 334.3 314.7 333.5 317.7 332.5 320.7 331.3 323.7 330.0 326.7 328.9 329.7 327.8 332.7 327.1 335.8 326.6 338.8 326.6 341.8 326.8 344.8 327.4 347.8 328.3 350.8 329.4 353.8 330.7 356.8 331.9 359.8 333.0 362.8 334.0 365.8 334.6 368.9 335.0 371.9 335.0 374.9 334.7 377.9 334.1 380.9 333.2 383.9 332.2 386.9 331.2 389.9 330.1 392.9 329.2 395.9 328.4 398.9 327.9 402 327.6 405 327.7 408 328.0 411 328.5 414 329.2 417 330.0 420 330.8 423 331.6 426 332.3 429 332.8 432 333.2 435.1 333.3 438.1 333.2 441.1 333.0 444.1 332.6 447.1 332.1 450.1 331.6 453.1 331.0 456.1 330.5 459.1 330.1 462.1 329.7 465.1 329.6 468.2 329.5 471.2 329.5 474.2 329.7 477.2 330.0 480.2 330.3 483.2 330.6" stroke="#0a0a0a" stroke-width="3.6"/>
<path d="M188.3 366.4 191.3 366.1 194.3 365.7 197.3 365.4 200.3 365.1 203.3 364.9 206.4 364.7 209.4 364.7 212.4 364.9 215.4 365.2 218.4 365.6 221.4 366.1 224.4 366.7 227.4 367.3 230.4 367.9 233.4 368.3 236.4 368.7 239.5 368.9 242.5 368.8 245.5 368.6 248.5 368.1 251.5 367.4 254.5 366.6 257.5 365.7 260.5 364.8 263.5 364.0 266.5 363.3 269.5 362.8 272.6 362.7 275.6 362.8 278.6 363.2 281.6 363.9 284.6 364.8 287.6 366.0 290.6 367.1 293.6 368.3 296.6 369.3 299.6 370.1 302.6 370.6 305.7 370.8 308.7 370.6 311.7 370.0 314.7 369.1 317.7 368.0 320.7 366.7 323.7 365.3 326.7 364.0 329.7 362.9 332.7 362.1 335.8 361.6 338.8 361.5 341.8 361.8 344.8 362.5 347.8 363.5 350.8 364.7 353.8 366.0 356.8 367.3 359.8 368.6 362.8 369.6 365.8 370.3 368.9 370.7 371.9 370.7 374.9 370.4 377.9 369.7 380.9 368.8 383.9 367.7 386.9 366.5 389.9 365.4 392.9 364.3 395.9 363.5 398.9 363.0 402 362.7 405 362.7 408 363.0 411 363.6 414 364.4 417 365.3 420 366.2 423 367.0 426 367.8 429 368.3 432 368.7 435.1 368.9 438.1 368.8 441.1 368.5 444.1 368.1 447.1 367.6 450.1 367.0 453.1 366.4 456.1 365.8 459.1 365.3 462.1 365.0 465.1 364.8 468.2 364.7 471.2 364.8 474.2 365.0 477.2 365.2 480.2 365.6 483.2 365.9" stroke="#0a0a0a" stroke-width="3.6"/>
<path d="M188.3 401.8 191.3 401.5 194.3 401.1 197.3 400.8 200.3 400.4 203.3 400.2 206.4 400.1 209.4 400.1 212.4 400.2 215.4 400.5 218.4 400.9 221.4 401.5 224.4 402.0 227.4 402.6 230.4 403.2 233.4 403.7 236.4 404.1 239.5 404.2 242.5 404.2 245.5 403.9 248.5 403.4 251.5 402.8 254.5 402.0 257.5 401.1 260.5 400.2 263.5 399.3 266.5 398.7 269.5 398.2 272.6 398.0 275.6 398.1 278.6 398.6 281.6 399.3 284.6 400.2 287.6 401.3 290.6 402.5 293.6 403.6 296.6 404.7 299.6 405.5 302.6 406.0 305.7 406.1 308.7 405.9 311.7 405.4 314.7 404.5 317.7 403.3 320.7 402.0 323.7 400.7 326.7 399.4 329.7 398.3 332.7 397.5 335.8 397.0 338.8 396.9 341.8 397.2 344.8 397.8 347.8 398.8 350.8 400.0 353.8 401.3 356.8 402.7 359.8 403.9 362.8 404.9 365.8 405.7 368.9 406.1 371.9 406.1 374.9 405.8 377.9 405.1 380.9 404.2 383.9 403.1 386.9 401.9 389.9 400.7 392.9 399.7 395.9 398.9 398.9 398.3 402 398.0 405 398.1 408 398.4 411 399.0 414 399.7 417 400.6 420 401.5 423 402.4 426 403.1 429 403.7 432 404.1 435.1 404.2 438.1 404.2 441.1 403.9 444.1 403.5 447.1 402.9 450.1 402.3 453.1 401.7 456.1 401.2 459.1 400.7 462.1 400.4 465.1 400.1 468.2 400.1 471.2 400.1 474.2 400.3 477.2 400.6 480.2 400.9 483.2 401.3" stroke="#0a0a0a" stroke-width="3.6"/>
<path d="M188.3 437.1 191.3 436.8 194.3 436.5 197.3 436.1 200.3 435.9 203.3 435.7 206.4 435.6 209.4 435.6 212.4 435.7 215.4 436.0 218.4 436.4 221.4 436.9 224.4 437.4 227.4 438.0 230.4 438.5 233.4 439.0 236.4 439.3 239.5 439.4 242.5 439.3 245.5 439.1 248.5 438.6 251.5 438.0 254.5 437.2 257.5 436.3 260.5 435.5 263.5 434.8 266.5 434.2 269.5 433.8 272.6 433.6 275.6 433.8 278.6 434.2 281.6 434.9 284.6 435.8 287.6 436.8 290.6 437.9 293.6 439.0 296.6 439.9 299.6 440.7 302.6 441.1 305.7 441.2 308.7 441.0 311.7 440.4 314.7 439.5 317.7 438.4 320.7 437.2 323.7 435.9 326.7 434.7 329.7 433.7 332.7 433.0 335.8 432.6 338.8 432.5 341.8 432.9 344.8 433.5 347.8 434.5 350.8 435.6 353.8 436.9 356.8 438.1 359.8 439.3 362.8 440.2 365.8 440.9 368.9 441.2 371.9 441.2 374.9 440.8 377.9 440.1 380.9 439.2 383.9 438.2 386.9 437.1 389.9 436.0 392.9 435.1 395.9 434.3 398.9 433.8 402 433.6 405 433.7 408 434.0 411 434.6 414 435.3 417 436.1 420 437.0 423 437.8 426 438.5 429 439.0 432 439.3 435.1 439.4 438.1 439.4 441.1 439.1 444.1 438.7 447.1 438.1 450.1 437.6 453.1 437.0 456.1 436.5 459.1 436.1 462.1 435.8 465.1 435.6 468.2 435.5 471.2 435.6 474.2 435.8 477.2 436.1 480.2 436.4 483.2 436.7" stroke="#0a0a0a" stroke-width="3.6"/>
<path d="M188.3 472.3 191.3 472.0 194.3 471.6 197.3 471.3 200.3 471.1 203.3 471.0 206.4 470.9 209.4 471.0 212.4 471.2 215.4 471.6 218.4 472.0 221.4 472.5 224.4 473.1 227.4 473.7 230.4 474.1 233.4 474.5 236.4 474.7 239.5 474.8 242.5 474.6 245.5 474.2 248.5 473.6 251.5 472.9 254.5 472.1 257.5 471.3 260.5 470.4 263.5 469.8 266.5 469.2 269.5 469.0 272.6 469.0 275.6 469.3 278.6 469.9 281.6 470.7 284.6 471.7 287.6 472.8 290.6 473.9 293.6 474.9 296.6 475.8 299.6 476.4 302.6 476.6 305.7 476.5 308.7 476.1 311.7 475.4 314.7 474.3 317.7 473.1 320.7 471.9 323.7 470.6 326.7 469.5 329.7 468.6 332.7 468.0 335.8 467.8 338.8 467.9 341.8 468.5 344.8 469.3 347.8 470.4 350.8 471.6 353.8 472.9 356.8 474.2 359.8 475.2 362.8 476.1 365.8 476.6 368.9 476.7 371.9 476.5 374.9 476.0 377.9 475.1 380.9 474.1 383.9 473.0 386.9 471.9 389.9 470.8 392.9 469.9 395.9 469.3 398.9 468.9 402 468.8 405 469.1 408 469.6 411 470.2 414 471.1 417 471.9 420 472.8 423 473.6 426 474.2 429 474.7 432 474.9 435.1 474.9 438.1 474.7 441.1 474.3 444.1 473.8 447.1 473.2 450.1 472.7 453.1 472.1 456.1 471.6 459.1 471.2 462.1 470.9 465.1 470.8 468.2 470.8 471.2 471.0 474.2 471.2 477.2 471.5 480.2 471.9 483.2 472.2" stroke="#0a0a0a" stroke-width="3.6"/>
<path d="M188.3 507.3 191.3 507.1 194.3 506.9 197.3 506.7 200.3 506.6 203.3 506.6 206.4 506.7 209.4 506.9 212.4 507.2 215.4 507.6 218.4 508.0 221.4 508.5 224.4 508.9 227.4 509.3 230.4 509.5 233.4 509.7 236.4 509.6 239.5 509.4 242.5 509.1 245.5 508.6 248.5 508.0 251.5 507.3 254.5 506.6 257.5 506.0 260.5 505.4 263.5 505.1 266.5 504.9 269.5 505.0 272.6 505.3 275.6 505.9 278.6 506.6 281.6 507.5 284.6 508.4 287.6 509.3 290.6 510.1 293.6 510.7 296.6 511.1 299.6 511.3 302.6 511.1 305.7 510.7 308.7 510.0 311.7 509.1 314.7 508.0 317.7 507.0 320.7 505.9 323.7 505.0 326.7 504.3 329.7 503.9 332.7 503.9 335.8 504.1 338.8 504.6 341.8 505.4 344.8 506.4 347.8 507.5 350.8 508.6 353.8 509.6 356.8 510.5 359.8 511.1 362.8 511.4 365.8 511.4 368.9 511.2 371.9 510.6 374.9 509.8 377.9 508.9 380.9 507.9 383.9 507.0 386.9 506.1 389.9 505.4 392.9 504.9 395.9 504.7 398.9 504.7 402 505.0 405 505.4 408 506.1 411 506.8 414 507.6 417 508.4 420 509.0 423 509.5 426 509.8 429 510.0 432 509.9 435.1 509.7 438.1 509.3 441.1 508.9 444.1 508.3 447.1 507.8 450.1 507.3 453.1 506.9 456.1 506.6 459.1 506.4 462.1 506.3 465.1 506.4 468.2 506.5 471.2 506.8 474.2 507.1 477.2 507.4 480.2 507.7 483.2 508.0" stroke="#0a0a0a" stroke-width="3.6"/>
<path d="M188.3 542.7 191.3 542.5 194.3 542.3 197.3 542.2 200.3 542.1 203.3 542.1 206.4 542.2 209.4 542.3 212.4 542.6 215.4 543.0 218.4 543.3 221.4 543.8 224.4 544.1 227.4 544.5 230.4 544.7 233.4 544.8 236.4 544.8 239.5 544.6 242.5 544.3 245.5 543.9 248.5 543.3 251.5 542.7 254.5 542.1 257.5 541.5 260.5 541.0 263.5 540.7 266.5 540.6 269.5 540.7 272.6 540.9 275.6 541.4 278.6 542.1 281.6 542.9 284.6 543.7 287.6 544.5 290.6 545.2 293.6 545.8 296.6 546.2 299.6 546.3 302.6 546.1 305.7 545.7 308.7 545.1 311.7 544.3 314.7 543.4 317.7 542.4 320.7 541.5 323.7 540.7 326.7 540.1 329.7 539.7 332.7 539.6 335.8 539.8 338.8 540.3 341.8 541.0 344.8 541.9 347.8 542.9 350.8 543.9 353.8 544.8 356.8 545.5 359.8 546.1 362.8 546.4 365.8 546.4 368.9 546.2 371.9 545.7 374.9 545.0 377.9 544.2 380.9 543.3 383.9 542.4 386.9 541.6 389.9 541.0 392.9 540.5 395.9 540.3 398.9 540.4 402 540.6 405 541.0 408 541.6 411 542.3 414 543.0 417 543.7 420 544.2 423 544.7 426 545.0 429 545.1 432 545.1 435.1 544.9 438.1 544.5 441.1 544.1 444.1 543.6 447.1 543.2 450.1 542.7 453.1 542.3 456.1 542.1 459.1 541.9 462.1 541.8 465.1 541.9 468.2 542.0 471.2 542.2 474.2 542.5 477.2 542.8 480.2 543.1 483.2 543.3" stroke="#0a0a0a" stroke-width="3.6"/>
<path d="M188.3 578.1 191.3 577.9 194.3 577.8 197.3 577.7 200.3 577.7 203.3 577.7 206.4 577.8 209.4 578.0 212.4 578.3 215.4 578.5 218.4 578.9 221.4 579.2 224.4 579.4 227.4 579.7 230.4 579.8 233.4 579.8 236.4 579.7 239.5 579.5 242.5 579.2 245.5 578.8 248.5 578.3 251.5 577.8 254.5 577.4 257.5 577.0 260.5 576.7 263.5 576.5 266.5 576.5 269.5 576.7 272.6 577.0 275.6 577.5 278.6 578.1 281.6 578.7 284.6 579.3 287.6 579.9 290.6 580.4 293.6 580.8 296.6 581.0 299.6 580.9 302.6 580.7 305.7 580.2 308.7 579.6 311.7 578.9 314.7 578.2 317.7 577.4 320.7 576.7 323.7 576.2 326.7 575.8 329.7 575.7 332.7 575.8 335.8 576.1 338.8 576.6 341.8 577.2 344.8 578.0 347.8 578.8 350.8 579.6 353.8 580.2 356.8 580.7 359.8 581.1 362.8 581.2 365.8 581.0 368.9 580.7 371.9 580.2 374.9 579.6 377.9 578.8 380.9 578.1 383.9 577.5 386.9 576.9 389.9 576.5 392.9 576.3 395.9 576.2 398.9 576.3 402 576.6 405 577.1 408 577.6 411 578.2 414 578.7 417 579.2 420 579.6 423 579.9 426 580.1 429 580.1 432 580.0 435.1 579.7 438.1 579.4 441.1 579.0 444.1 578.6 447.1 578.3 450.1 577.9 453.1 577.7 456.1 577.5 459.1 577.4 462.1 577.4 465.1 577.5 468.2 577.7 471.2 577.9 474.2 578.1 477.2 578.4 480.2 578.6 483.2 578.8" stroke="#0a0a0a" stroke-width="3.6"/>
<path d="M188.3 613.0 191.3 613.0 194.3 613.1 197.3 613.2 200.3 613.4 203.3 613.7 206.4 614.0 209.4 614.3 212.4 614.6 215.4 614.9 218.4 615.1 221.4 615.2 224.4 615.2 227.4 615.0 230.4 614.8 233.4 614.4 236.4 614.0 239.5 613.5 242.5 613.0 245.5 612.5 248.5 612.1 251.5 611.8 254.5 611.7 257.5 611.8 260.5 612.0 263.5 612.4 266.5 612.9 269.5 613.6 272.6 614.3 275.6 615.0 278.6 615.6 281.6 616.2 284.6 616.5 287.6 616.6 290.6 616.5 293.6 616.2 296.6 615.6 299.6 614.9 302.6 614.1 305.7 613.2 308.7 612.3 311.7 611.6 314.7 611.0 317.7 610.7 320.7 610.6 323.7 610.8 326.7 611.2 329.7 611.8 332.7 612.7 335.8 613.6 338.8 614.5 341.8 615.4 344.8 616.2 347.8 616.7 350.8 617.0 353.8 617.1 356.8 616.8 359.8 616.4 362.8 615.7 365.8 614.9 368.9 614.0 371.9 613.1 374.9 612.3 377.9 611.7 380.9 611.2 383.9 611.0 386.9 611.0 389.9 611.2 392.9 611.7 395.9 612.3 398.9 613.0 402 613.7 405 614.4 408 615.0 411 615.5 414 615.8 417 616.0 420 615.9 423 615.7 426 615.4 429 614.9 432 614.4 435.1 613.9 438.1 613.4 441.1 613.0 444.1 612.7 447.1 612.5 450.1 612.4 453.1 612.4 456.1 612.6 459.1 612.8 462.1 613.1 465.1 613.5 468.2 613.8 471.2 614.1 474.2 614.3 477.2 614.5 480.2 614.6 483.2 614.7" stroke="#0a0a0a" stroke-width="3.6"/>
<path d="M188.3 648.4 191.3 648.6 194.3 648.9 197.3 649.3 200.3 649.7 203.3 650.0 206.4 650.4 209.4 650.7 212.4 650.8 215.4 650.9 218.4 650.8 221.4 650.5 224.4 650.1 227.4 649.6 230.4 649.0 233.4 648.3 236.4 647.7 239.5 647.2 242.5 646.8 245.5 646.5 248.5 646.5 251.5 646.7 254.5 647.2 257.5 647.8 260.5 648.6 263.5 649.5 266.5 650.4 269.5 651.3 272.6 652.0 275.6 652.6 278.6 652.8 281.6 652.8 284.6 652.5 287.6 651.8 290.6 651.0 293.6 649.9 296.6 648.7 299.6 647.6 302.6 646.5 305.7 645.6 308.7 645.0 311.7 644.8 314.7 644.9 317.7 645.3 320.7 646.1 323.7 647.2 326.7 648.4 329.7 649.7 332.7 651.0 335.8 652.1 338.8 653.0 341.8 653.6 344.8 653.8 347.8 653.6 350.8 653.1 353.8 652.2 356.8 651.1 359.8 649.9 362.8 648.6 365.8 647.4 368.9 646.4 371.9 645.6 374.9 645.2 377.9 645.0 380.9 645.2 383.9 645.8 386.9 646.6 389.9 647.5 392.9 648.6 395.9 649.7 398.9 650.7 402 651.5 405 652.1 408 652.4 411 652.4 414 652.2 417 651.8 420 651.1 423 650.4 426 649.6 429 648.8 432 648.1 435.1 647.5 438.1 647.1 441.1 647.0 444.1 647.0 447.1 647.1 450.1 647.5 453.1 647.9 456.1 648.4 459.1 648.9 462.1 649.4 465.1 649.9 468.2 650.2 471.2 650.4 474.2 650.5 477.2 650.5 480.2 650.4 483.2 650.2" stroke="#0a0a0a" stroke-width="3.6"/>
<path d="M188.3 683.9 191.3 684.4 194.3 684.8 197.3 685.3 200.3 685.8 203.3 686.3 206.4 686.6 209.4 686.8 212.4 686.8 215.4 686.6 218.4 686.2 221.4 685.6 224.4 684.8 227.4 684.0 230.4 683.1 233.4 682.3 236.4 681.7 239.5 681.2 242.5 680.9 245.5 681.0 248.5 681.4 251.5 682.1 254.5 683.0 257.5 684.1 260.5 685.4 263.5 686.6 266.5 687.8 269.5 688.7 272.6 689.3 275.6 689.6 278.6 689.4 281.6 688.8 284.6 687.8 287.6 686.5 290.6 685.0 293.6 683.4 296.6 681.8 299.6 680.4 302.6 679.3 305.7 678.6 308.7 678.4 311.7 678.7 314.7 679.5 317.7 680.7 320.7 682.3 323.7 684.1 326.7 685.9 329.7 687.6 332.7 689.1 335.8 690.2 338.8 690.9 341.8 691.0 344.8 690.6 347.8 689.7 350.8 688.4 353.8 686.7 356.8 685.0 359.8 683.2 362.8 681.5 365.8 680.1 368.9 679.1 371.9 678.6 374.9 678.6 377.9 679.1 380.9 680.0 383.9 681.2 386.9 682.7 389.9 684.2 392.9 685.8 395.9 687.1 398.9 688.2 402 689.0 405 689.3 408 689.3 411 688.8 414 688.1 417 687.1 420 685.9 423 684.7 426 683.6 429 682.6 432 681.9 435.1 681.4 438.1 681.2 441.1 681.3 444.1 681.6 447.1 682.2 450.1 682.9 453.1 683.7 456.1 684.4 459.1 685.2 462.1 685.8 465.1 686.2 468.2 686.5 471.2 686.6 474.2 686.5 477.2 686.3 480.2 685.9 483.2 685.5" stroke="#0a0a0a" stroke-width="3.6"/>
<path d="M188.3 719.5 191.3 720.1 194.3 720.7 197.3 721.4 200.3 721.9 203.3 722.4 206.4 722.7 209.4 722.8 212.4 722.6 215.4 722.2 218.4 721.5 221.4 720.6 224.4 719.6 227.4 718.5 230.4 717.4 233.4 716.5 236.4 715.7 239.5 715.3 242.5 715.3 245.5 715.6 248.5 716.4 251.5 717.5 254.5 718.9 257.5 720.4 260.5 722.1 263.5 723.6 266.5 725.0 269.5 725.9 272.6 726.4 275.6 726.4 278.6 725.8 281.6 724.7 284.6 723.1 287.6 721.2 290.6 719.1 293.6 717.0 296.6 715.1 299.6 713.5 302.6 712.4 305.7 711.9 308.7 712.0 311.7 712.8 314.7 714.3 317.7 716.2 320.7 718.5 323.7 720.9 326.7 723.2 329.7 725.3 332.7 727.0 335.8 728.1 338.8 728.5 341.8 728.2 344.8 727.2 347.8 725.6 350.8 723.6 353.8 721.3 356.8 718.9 359.8 716.6 362.8 714.6 365.8 713.1 368.9 712.2 371.9 711.9 374.9 712.3 377.9 713.3 380.9 714.8 383.9 716.7 386.9 718.8 389.9 720.9 392.9 722.8 395.9 724.4 398.9 725.6 402 726.2 405 726.3 408 725.9 411 725.0 414 723.8 417 722.3 420 720.7 423 719.1 426 717.7 429 716.6 432 715.8 435.1 715.4 438.1 715.4 441.1 715.8 444.1 716.4 447.1 717.3 450.1 718.3 453.1 719.4 456.1 720.4 459.1 721.3 462.1 722.0 465.1 722.5 468.2 722.7 471.2 722.6 474.2 722.4 477.2 721.9 480.2 721.4 483.2 720.8" stroke="#0a0a0a" stroke-width="3.6"/>
<path d="M188.3 755.1 191.3 756.0 194.3 756.9 197.3 757.8 200.3 758.6 203.3 759.1 206.4 759.4 209.4 759.3 212.4 758.9 215.4 758.1 218.4 757.0 221.4 755.6 224.4 754.0 227.4 752.4 230.4 750.9 233.4 749.7 236.4 748.9 239.5 748.5 242.5 748.7 245.5 749.5 248.5 750.9 251.5 752.7 254.5 754.9 257.5 757.2 260.5 759.6 263.5 761.7 266.5 763.4 269.5 764.5 272.6 764.8 275.6 764.4 278.6 763.2 281.6 761.2 284.6 758.6 287.6 755.7 290.6 752.6 293.6 749.6 296.6 746.9 299.6 744.9 302.6 743.7 305.7 743.5 308.7 744.2 311.7 745.8 314.7 748.3 317.7 751.4 320.7 754.9 323.7 758.5 326.7 761.8 329.7 764.6 332.7 766.7 335.8 767.8 338.8 767.9 341.8 766.9 344.8 765.0 347.8 762.3 350.8 759.0 353.8 755.5 356.8 752.0 359.8 748.8 362.8 746.2 365.8 744.3 368.9 743.5 371.9 743.6 374.9 744.6 377.9 746.5 380.9 749.1 383.9 752.0 386.9 755.2 389.9 758.2 392.9 760.8 395.9 762.9 398.9 764.3 402 764.9 405 764.7 408 763.7 411 762.1 414 760.0 417 757.7 420 755.3 423 753.0 426 751.1 429 749.6 432 748.7 435.1 748.4 438.1 748.7 441.1 749.5 444.1 750.6 447.1 752.1 450.1 753.7 453.1 755.3 456.1 756.8 459.1 758.0 462.1 758.8 465.1 759.4 468.2 759.5 471.2 759.3 474.2 758.7 477.2 758.0 480.2 757.1 483.2 756.1" stroke="#0a0a0a" stroke-width="3.6"/>
<path d="M188.3 790.2 191.3 791.2 194.3 792.3 197.3 793.3 200.3 794.2 203.3 794.9 206.4 795.3 209.4 795.3 212.4 794.8 215.4 794.0 218.4 792.8 221.4 791.2 224.4 789.5 227.4 787.7 230.4 786.0 233.4 784.6 236.4 783.5 239.5 783.0 242.5 783.2 245.5 784.0 248.5 785.4 251.5 787.4 254.5 789.8 257.5 792.4 260.5 795.1 263.5 797.5 266.5 799.5 269.5 800.8 272.6 801.4 275.6 801.0 278.6 799.8 281.6 797.7 284.6 794.9 287.6 791.6 290.6 788.2 293.6 784.8 296.6 781.7 299.6 779.4 302.6 777.8 305.7 777.4 308.7 778.0 311.7 779.7 314.7 782.3 317.7 785.7 320.7 789.6 323.7 793.6 326.7 797.3 329.7 800.6 332.7 803.1 335.8 804.5 338.8 804.8 341.8 803.9 344.8 801.9 347.8 799.0 350.8 795.5 353.8 791.5 356.8 787.6 359.8 783.9 362.8 780.9 365.8 778.7 368.9 777.5 371.9 777.5 374.9 778.5 377.9 780.5 380.9 783.2 383.9 786.5 386.9 789.9 389.9 793.3 392.9 796.4 395.9 798.8 398.9 800.5 402 801.3 405 801.2 408 800.2 411 798.5 414 796.3 417 793.7 420 791.1 423 788.5 426 786.3 429 784.6 432 783.5 435.1 783.0 438.1 783.2 441.1 784.0 444.1 785.3 447.1 786.8 450.1 788.6 453.1 790.4 456.1 792.0 459.1 793.4 462.1 794.5 465.1 795.1 468.2 795.3 471.2 795.1 474.2 794.6 477.2 793.8 480.2 792.8 483.2 791.7" stroke="#0a0a0a" stroke-width="3.6"/>
<path d="M188.3 825.9 191.3 826.9 194.3 827.8 197.3 828.7 200.3 829.5 203.3 830.1 206.4 830.3 209.4 830.2 212.4 829.6 215.4 828.8 218.4 827.5 221.4 826.0 224.4 824.4 227.4 822.8 230.4 821.2 233.4 820.0 236.4 819.2 239.5 818.9 242.5 819.3 245.5 820.2 248.5 821.7 251.5 823.7 254.5 826.0 257.5 828.5 260.5 830.9 263.5 833.0 266.5 834.7 269.5 835.7 272.6 836.0 275.6 835.4 278.6 833.9 281.6 831.8 284.6 829.0 287.6 825.9 290.6 822.6 293.6 819.5 296.6 816.9 299.6 814.9 302.6 813.8 305.7 813.7 308.7 814.6 311.7 816.5 314.7 819.2 317.7 822.6 320.7 826.2 323.7 829.9 326.7 833.3 329.7 836.2 332.7 838.2 335.8 839.2 338.8 839.1 341.8 837.9 344.8 835.8 347.8 832.8 350.8 829.3 353.8 825.6 356.8 821.9 359.8 818.7 362.8 816.1 365.8 814.3 368.9 813.5 371.9 813.8 374.9 815.1 377.9 817.2 380.9 820.0 383.9 823.1 386.9 826.4 389.9 829.5 392.9 832.3 395.9 834.4 398.9 835.7 402 836.1 405 835.8 408 834.6 411 832.8 414 830.6 417 828.1 420 825.6 423 823.2 426 821.3 429 819.8 432 819.0 435.1 818.8 438.1 819.1 441.1 820.0 444.1 821.4 447.1 822.9 450.1 824.6 453.1 826.3 456.1 827.8 459.1 829.0 462.1 829.9 465.1 830.4 468.2 830.4 471.2 830.1 474.2 829.5 477.2 828.7 480.2 827.7 483.2 826.7" stroke="#0a0a0a" stroke-width="3.6"/>
<path d="M188.3 861.0 191.3 861.8 194.3 862.7 197.3 863.5 200.3 864.3 203.3 864.8 206.4 865.1 209.4 865.1 212.4 864.8 215.4 864.1 218.4 863.1 221.4 861.8 224.4 860.4 227.4 859.0 230.4 857.6 233.4 856.4 236.4 855.6 239.5 855.1 242.5 855.3 245.5 855.9 248.5 857.1 251.5 858.7 254.5 860.6 257.5 862.8 260.5 865.0 263.5 867.0 266.5 868.6 269.5 869.7 272.6 870.1 275.6 869.8 278.6 868.8 281.6 867.1 284.6 864.8 287.6 862.2 290.6 859.3 293.6 856.6 296.6 854.1 299.6 852.1 302.6 850.9 305.7 850.5 308.7 851.0 311.7 852.4 314.7 854.6 317.7 857.3 320.7 860.5 323.7 863.7 326.7 866.8 329.7 869.5 332.7 871.5 335.8 872.7 338.8 872.9 341.8 872.2 344.8 870.6 347.8 868.2 350.8 865.3 353.8 862.1 356.8 858.9 359.8 855.9 362.8 853.4 365.8 851.6 368.9 850.7 371.9 850.6 374.9 851.4 377.9 853.0 380.9 855.3 383.9 857.9 386.9 860.8 389.9 863.6 392.9 866.1 395.9 868.1 398.9 869.4 402 870.1 405 870.0 408 869.2 411 867.8 414 866.0 417 863.9 420 861.7 423 859.6 426 857.8 429 856.4 432 855.5 435.1 855.1 438.1 855.3 441.1 855.9 444.1 857.0 447.1 858.3 450.1 859.7 453.1 861.2 456.1 862.5 459.1 863.6 462.1 864.5 465.1 865.0 468.2 865.2 471.2 865.0 474.2 864.6 477.2 863.9 480.2 863.1 483.2 862.3" stroke="#0a0a0a" stroke-width="3.6"/>
<path d="M188.3 896.2 191.3 896.9 194.3 897.6 197.3 898.3 200.3 899.0 203.3 899.5 206.4 899.8 209.4 899.9 212.4 899.7 215.4 899.2 218.4 898.5 221.4 897.5 224.4 896.3 227.4 895.1 230.4 893.9 233.4 892.9 236.4 892.0 239.5 891.6 242.5 891.5 245.5 891.9 248.5 892.7 251.5 894.0 254.5 895.5 257.5 897.3 260.5 899.1 263.5 900.9 266.5 902.3 269.5 903.4 272.6 904.0 275.6 903.9 278.6 903.3 281.6 902.0 284.6 900.3 287.6 898.2 290.6 895.8 293.6 893.5 296.6 891.3 299.6 889.5 302.6 888.3 305.7 887.7 308.7 887.9 311.7 888.8 314.7 890.4 317.7 892.6 320.7 895.1 323.7 897.8 326.7 900.4 329.7 902.8 332.7 904.6 335.8 905.8 338.8 906.3 341.8 906.0 344.8 904.9 347.8 903.1 350.8 900.8 353.8 898.2 356.8 895.5 359.8 893.0 362.8 890.8 365.8 889.1 368.9 888.1 371.9 887.8 374.9 888.2 377.9 889.4 380.9 891.0 383.9 893.1 386.9 895.5 389.9 897.8 392.9 899.9 395.9 901.7 398.9 903.0 402 903.8 405 903.9 408 903.4 411 902.4 414 901.0 417 899.4 420 897.6 423 895.8 426 894.3 429 893.0 432 892.1 435.1 891.7 438.1 891.7 441.1 892.1 444.1 892.8 447.1 893.8 450.1 895.0 453.1 896.2 456.1 897.3 459.1 898.3 462.1 899.1 465.1 899.6 468.2 899.8 471.2 899.8 474.2 899.5 477.2 899.0 480.2 898.4 483.2 897.7" stroke="#0a0a0a" stroke-width="3.6"/>
<path d="M188.3 931.6 191.3 932.1 194.3 932.6 197.3 933.2 200.3 933.7 203.3 934.1 206.4 934.3 209.4 934.4 212.4 934.3 215.4 934.0 218.4 933.5 221.4 932.8 224.4 931.9 227.4 931.0 230.4 930.2 233.4 929.4 236.4 928.7 239.5 928.3 242.5 928.2 245.5 928.5 248.5 929.0 251.5 929.9 254.5 931.0 257.5 932.3 260.5 933.6 263.5 934.9 266.5 936.0 269.5 936.9 272.6 937.3 275.6 937.4 278.6 937.0 281.6 936.2 284.6 934.9 287.6 933.4 290.6 931.7 293.6 930.0 296.6 928.4 299.6 927.0 302.6 926.0 305.7 925.5 308.7 925.6 311.7 926.2 314.7 927.3 317.7 928.8 320.7 930.6 323.7 932.5 326.7 934.5 329.7 936.2 332.7 937.7 335.8 938.6 338.8 939.0 341.8 938.9 344.8 938.2 347.8 937.0 350.8 935.4 353.8 933.5 356.8 931.5 359.8 929.6 362.8 928.0 365.8 926.7 368.9 925.9 371.9 925.6 374.9 925.8 377.9 926.6 380.9 927.7 383.9 929.2 386.9 930.9 389.9 932.6 392.9 934.2 395.9 935.5 398.9 936.5 402 937.1 405 937.3 408 937.0 411 936.4 414 935.4 417 934.2 420 932.9 423 931.6 426 930.5 429 929.5 432 928.8 435.1 928.5 438.1 928.4 441.1 928.6 444.1 929.1 447.1 929.8 450.1 930.7 453.1 931.5 456.1 932.4 459.1 933.1 462.1 933.7 465.1 934.1 468.2 934.3 471.2 934.3 474.2 934.1 477.2 933.8 480.2 933.3 483.2 932.9" stroke="#0a0a0a" stroke-width="3.6"/>
<path d="M188.3 967.1 191.3 967.5 194.3 967.8 197.3 968.2 200.3 968.6 203.3 968.9 206.4 969.1 209.4 969.2 212.4 969.1 215.4 968.9 218.4 968.5 221.4 967.9 224.4 967.3 227.4 966.7 230.4 966.0 233.4 965.4 236.4 964.9 239.5 964.7 242.5 964.6 245.5 964.8 248.5 965.2 251.5 965.8 254.5 966.6 257.5 967.6 260.5 968.6 263.5 969.5 266.5 970.4 269.5 971.0 272.6 971.3 275.6 971.4 278.6 971.1 281.6 970.5 284.6 969.5 287.6 968.4 290.6 967.2 293.6 965.9 296.6 964.7 299.6 963.7 302.6 962.9 305.7 962.6 308.7 962.6 311.7 963.0 314.7 963.8 317.7 965.0 320.7 966.3 323.7 967.8 326.7 969.2 329.7 970.5 332.7 971.6 335.8 972.3 338.8 972.6 341.8 972.5 344.8 972.0 347.8 971.1 350.8 969.9 353.8 968.5 356.8 967.0 359.8 965.6 362.8 964.4 365.8 963.4 368.9 962.8 371.9 962.6 374.9 962.8 377.9 963.3 380.9 964.2 383.9 965.3 386.9 966.5 389.9 967.8 392.9 969.0 395.9 970.0 398.9 970.7 402 971.2 405 971.3 408 971.1 411 970.6 414 969.9 417 969.0 420 968.1 423 967.1 426 966.2 429 965.5 432 965.0 435.1 964.7 438.1 964.7 441.1 964.9 444.1 965.3 447.1 965.8 450.1 966.4 453.1 967.0 456.1 967.6 459.1 968.2 462.1 968.6 465.1 968.9 468.2 969.1 471.2 969.1 474.2 968.9 477.2 968.7 480.2 968.4 483.2 968.0" stroke="#0a0a0a" stroke-width="3.6"/>
<path d="M188.3 1002.5 191.3 1002.8 194.3 1003.1 197.3 1003.4 200.3 1003.7 203.3 1003.9 206.4 1004.0 209.4 1004.1 212.4 1004.0 215.4 1003.9 218.4 1003.6 221.4 1003.2 224.4 1002.7 227.4 1002.2 230.4 1001.7 233.4 1001.3 236.4 1000.9 239.5 1000.7 242.5 1000.7 245.5 1000.8 248.5 1001.1 251.5 1001.6 254.5 1002.2 257.5 1002.9 260.5 1003.7 263.5 1004.4 266.5 1005.0 269.5 1005.5 272.6 1005.7 275.6 1005.8 278.6 1005.5 281.6 1005.1 284.6 1004.4 287.6 1003.5 290.6 1002.6 293.6 1001.6 296.6 1000.7 299.6 1000.0 302.6 999.4 305.7 999.1 308.7 999.2 311.7 999.5 314.7 1000.1 317.7 1000.9 320.7 1002.0 323.7 1003.0 326.7 1004.1 329.7 1005.1 332.7 1005.9 335.8 1006.4 338.8 1006.7 341.8 1006.6 344.8 1006.2 347.8 1005.5 350.8 1004.6 353.8 1003.6 356.8 1002.5 359.8 1001.4 362.8 1000.5 365.8 999.8 368.9 999.3 371.9 999.2 374.9 999.3 377.9 999.7 380.9 1000.4 383.9 1001.2 386.9 1002.1 389.9 1003.1 392.9 1004.0 395.9 1004.7 398.9 1005.3 402 1005.6 405 1005.7 408 1005.5 411 1005.2 414 1004.6 417 1004.0 420 1003.3 423 1002.5 426 1001.9 429 1001.4 432 1001.0 435.1 1000.8 438.1 1000.7 441.1 1000.9 444.1 1001.2 447.1 1001.5 450.1 1002.0 453.1 1002.5 456.1 1002.9 459.1 1003.4 462.1 1003.7 465.1 1003.9 468.2 1004.0 471.2 1004.0 474.2 1003.9 477.2 1003.7 480.2 1003.5 483.2 1003.2" stroke="#0a0a0a" stroke-width="3.6"/>
<path d="M188.3 1038.0 191.3 1038.2 194.3 1038.4 197.3 1038.6 200.3 1038.8 203.3 1039.0 206.4 1039.1 209.4 1039.2 212.4 1039.1 215.4 1039.0 218.4 1038.7 221.4 1038.4 224.4 1038.1 227.4 1037.7 230.4 1037.3 233.4 1037.0 236.4 1036.7 239.5 1036.5 242.5 1036.5 245.5 1036.6 248.5 1036.8 251.5 1037.2 254.5 1037.7 257.5 1038.2 260.5 1038.8 263.5 1039.4 266.5 1039.8 269.5 1040.2 272.6 1040.4 275.6 1040.4 278.6 1040.3 281.6 1039.9 284.6 1039.4 287.6 1038.7 290.6 1038.0 293.6 1037.2 296.6 1036.6 299.6 1036.0 302.6 1035.6 305.7 1035.3 308.7 1035.4 311.7 1035.6 314.7 1036.1 317.7 1036.7 320.7 1037.5 323.7 1038.3 326.7 1039.2 329.7 1039.9 332.7 1040.5 335.8 1040.9 338.8 1041.1 341.8 1041.1 344.8 1040.8 347.8 1040.2 350.8 1039.6 353.8 1038.8 356.8 1037.9 359.8 1037.1 362.8 1036.4 365.8 1035.8 368.9 1035.5 371.9 1035.4 374.9 1035.5 377.9 1035.8 380.9 1036.3 383.9 1036.9 386.9 1037.6 389.9 1038.4 392.9 1039.0 395.9 1039.6 398.9 1040.1 402 1040.3 405 1040.4 408 1040.3 411 1040.0 414 1039.6 417 1039.1 420 1038.5 423 1038.0 426 1037.5 429 1037.0 432 1036.8 435.1 1036.6 438.1 1036.6 441.1 1036.7 444.1 1036.9 447.1 1037.2 450.1 1037.5 453.1 1037.9 456.1 1038.3 459.1 1038.6 462.1 1038.8 465.1 1039.0 468.2 1039.1 471.2 1039.1 474.2 1039.0 477.2 1038.9 480.2 1038.7 483.2 1038.5" stroke="#0a0a0a" stroke-width="3.6"/>
<path d="M188.3 1073.4 191.3 1073.6 194.3 1073.8 197.3 1074.0 200.3 1074.2 203.3 1074.3 206.4 1074.4 209.4 1074.4 212.4 1074.3 215.4 1074.1 218.4 1073.9 221.4 1073.6 224.4 1073.3 227.4 1072.9 230.4 1072.6 233.4 1072.3 236.4 1072.2 239.5 1072.1 242.5 1072.1 245.5 1072.2 248.5 1072.5 251.5 1072.9 254.5 1073.3 257.5 1073.8 260.5 1074.3 263.5 1074.8 266.5 1075.2 269.5 1075.4 272.6 1075.5 275.6 1075.5 278.6 1075.2 281.6 1074.8 284.6 1074.3 287.6 1073.7 290.6 1073.0 293.6 1072.4 296.6 1071.8 299.6 1071.4 302.6 1071.1 305.7 1071.0 308.7 1071.1 311.7 1071.4 314.7 1071.9 317.7 1072.6 320.7 1073.3 323.7 1074.1 326.7 1074.8 329.7 1075.4 332.7 1075.9 335.8 1076.1 338.8 1076.2 341.8 1076.0 344.8 1075.7 347.8 1075.1 350.8 1074.4 353.8 1073.7 356.8 1072.9 359.8 1072.2 362.8 1071.7 365.8 1071.2 368.9 1071.0 371.9 1071.0 374.9 1071.2 377.9 1071.6 380.9 1072.1 383.9 1072.7 386.9 1073.4 389.9 1074.0 392.9 1074.6 395.9 1075.1 398.9 1075.4 402 1075.5 405 1075.5 408 1075.3 411 1075.0 414 1074.6 417 1074.1 420 1073.6 423 1073.1 426 1072.7 429 1072.4 432 1072.1 435.1 1072.1 438.1 1072.1 441.1 1072.2 444.1 1072.5 447.1 1072.8 450.1 1073.1 453.1 1073.5 456.1 1073.8 459.1 1074.0 462.1 1074.2 465.1 1074.4 468.2 1074.4 471.2 1074.4 474.2 1074.3 477.2 1074.1 480.2 1073.9 483.2 1073.7" stroke="#0a0a0a" stroke-width="3.6"/>
<path d="M188.3 1108.8 191.3 1109.0 194.3 1109.2 197.3 1109.4 200.3 1109.5 203.3 1109.7 206.4 1109.7 209.4 1109.7 212.4 1109.7 215.4 1109.5 218.4 1109.3 221.4 1109.0 224.4 1108.6 227.4 1108.3 230.4 1108.0 233.4 1107.7 236.4 1107.5 239.5 1107.4 242.5 1107.4 245.5 1107.6 248.5 1107.9 251.5 1108.2 254.5 1108.7 257.5 1109.2 260.5 1109.7 263.5 1110.2 266.5 1110.5 269.5 1110.8 272.6 1110.9 275.6 1110.8 278.6 1110.6 281.6 1110.2 284.6 1109.7 287.6 1109.1 290.6 1108.4 293.6 1107.7 296.6 1107.2 299.6 1106.7 302.6 1106.4 305.7 1106.3 308.7 1106.5 311.7 1106.8 314.7 1107.3 317.7 1107.9 320.7 1108.7 323.7 1109.4 326.7 1110.1 329.7 1110.8 332.7 1111.2 335.8 1111.5 338.8 1111.6 341.8 1111.4 344.8 1111.0 347.8 1110.5 350.8 1109.8 353.8 1109.0 356.8 1108.3 359.8 1107.6 362.8 1107.0 365.8 1106.6 368.9 1106.4 371.9 1106.4 374.9 1106.6 377.9 1106.9 380.9 1107.4 383.9 1108.1 386.9 1108.7 389.9 1109.4 392.9 1110.0 395.9 1110.4 398.9 1110.7 402 1110.9 405 1110.9 408 1110.7 411 1110.4 414 1109.9 417 1109.5 420 1108.9 423 1108.5 426 1108.0 429 1107.7 432 1107.5 435.1 1107.4 438.1 1107.5 441.1 1107.6 444.1 1107.8 447.1 1108.1 450.1 1108.5 453.1 1108.8 456.1 1109.1 459.1 1109.4 462.1 1109.6 465.1 1109.7 468.2 1109.8 471.2 1109.7 474.2 1109.6 477.2 1109.5 480.2 1109.3 483.2 1109.1" stroke="#0a0a0a" stroke-width="3.6"/>
<path d="M188.3 1144.1 191.3 1144.4 194.3 1144.6 197.3 1144.9 200.3 1145.1 203.3 1145.3 206.4 1145.4 209.4 1145.4 212.4 1145.3 215.4 1145.1 218.4 1144.7 221.4 1144.4 224.4 1143.9 227.4 1143.5 230.4 1143.1 233.4 1142.7 236.4 1142.5 239.5 1142.4 242.5 1142.4 245.5 1142.6 248.5 1142.9 251.5 1143.4 254.5 1144.0 257.5 1144.7 260.5 1145.3 263.5 1145.9 266.5 1146.4 269.5 1146.7 272.6 1146.9 275.6 1146.8 278.6 1146.5 281.6 1146.0 284.6 1145.3 287.6 1144.5 290.6 1143.6 293.6 1142.8 296.6 1142.0 299.6 1141.4 302.6 1141.1 305.7 1141.0 308.7 1141.1 311.7 1141.5 314.7 1142.2 317.7 1143.0 320.7 1144.0 323.7 1144.9 326.7 1145.9 329.7 1146.7 332.7 1147.3 335.8 1147.6 338.8 1147.7 341.8 1147.5 344.8 1147.0 347.8 1146.3 350.8 1145.4 353.8 1144.4 356.8 1143.5 359.8 1142.6 362.8 1141.8 365.8 1141.3 368.9 1141.0 371.9 1141.0 374.9 1141.2 377.9 1141.7 380.9 1142.4 383.9 1143.2 386.9 1144.1 389.9 1144.9 392.9 1145.6 395.9 1146.2 398.9 1146.7 402 1146.9 405 1146.8 408 1146.6 411 1146.2 414 1145.6 417 1145.0 420 1144.3 423 1143.7 426 1143.2 429 1142.7 432 1142.5 435.1 1142.3 438.1 1142.4 441.1 1142.6 444.1 1142.9 447.1 1143.3 450.1 1143.7 453.1 1144.2 456.1 1144.6 459.1 1144.9 462.1 1145.2 465.1 1145.3 468.2 1145.4 471.2 1145.3 474.2 1145.2 477.2 1145.0 480.2 1144.8 483.2 1144.5" stroke="#0a0a0a" stroke-width="3.6"/>
<path d="M188.3 1179.5 191.3 1179.8 194.3 1180.1 197.3 1180.5 200.3 1180.8 203.3 1181.0 206.4 1181.1 209.4 1181.1 212.4 1181.0 215.4 1180.7 218.4 1180.3 221.4 1179.8 224.4 1179.2 227.4 1178.6 230.4 1178.0 233.4 1177.5 236.4 1177.2 239.5 1177.0 242.5 1177.1 245.5 1177.3 248.5 1177.8 251.5 1178.5 254.5 1179.3 257.5 1180.2 260.5 1181.1 263.5 1181.9 266.5 1182.6 269.5 1183.0 272.6 1183.2 275.6 1183.1 278.6 1182.7 281.6 1182.0 284.6 1181.0 287.6 1179.9 290.6 1178.8 293.6 1177.6 296.6 1176.6 299.6 1175.8 302.6 1175.3 305.7 1175.1 308.7 1175.3 311.7 1175.9 314.7 1176.8 317.7 1177.9 320.7 1179.2 323.7 1180.6 326.7 1181.9 329.7 1183.0 332.7 1183.8 335.8 1184.3 338.8 1184.4 341.8 1184.1 344.8 1183.4 347.8 1182.4 350.8 1181.2 353.8 1179.9 356.8 1178.6 359.8 1177.3 362.8 1176.3 365.8 1175.6 368.9 1175.2 371.9 1175.1 374.9 1175.5 377.9 1176.1 380.9 1177.1 383.9 1178.2 386.9 1179.3 389.9 1180.5 392.9 1181.5 395.9 1182.4 398.9 1182.9 402 1183.2 405 1183.2 408 1182.8 411 1182.3 414 1181.5 417 1180.6 420 1179.7 423 1178.9 426 1178.1 429 1177.5 432 1177.2 435.1 1177.0 438.1 1177.1 441.1 1177.3 444.1 1177.8 447.1 1178.3 450.1 1178.9 453.1 1179.5 456.1 1180.1 459.1 1180.5 462.1 1180.9 465.1 1181.1 468.2 1181.2 471.2 1181.1 474.2 1180.9 477.2 1180.6 480.2 1180.3 483.2 1180.0" stroke="#0a0a0a" stroke-width="3.6"/>
<path d="M188.3 1214.8 191.3 1215.1 194.3 1215.4 197.3 1215.7 200.3 1216.0 203.3 1216.2 206.4 1216.3 209.4 1216.3 212.4 1216.2 215.4 1215.9 218.4 1215.6 221.4 1215.1 224.4 1214.6 227.4 1214.1 230.4 1213.6 233.4 1213.2 236.4 1212.9 239.5 1212.8 242.5 1212.8 245.5 1213.0 248.5 1213.4 251.5 1214.0 254.5 1214.7 257.5 1215.5 260.5 1216.2 263.5 1216.9 266.5 1217.5 269.5 1217.9 272.6 1218.0 275.6 1217.9 278.6 1217.6 281.6 1217.0 284.6 1216.2 287.6 1215.2 290.6 1214.2 293.6 1213.2 296.6 1212.4 299.6 1211.7 302.6 1211.3 305.7 1211.1 308.7 1211.3 311.7 1211.8 314.7 1212.5 317.7 1213.5 320.7 1214.6 323.7 1215.8 326.7 1216.9 329.7 1217.8 332.7 1218.5 335.8 1218.9 338.8 1219.0 341.8 1218.8 344.8 1218.2 347.8 1217.4 350.8 1216.3 353.8 1215.2 356.8 1214.1 359.8 1213.0 362.8 1212.1 365.8 1211.5 368.9 1211.2 371.9 1211.1 374.9 1211.4 377.9 1212.0 380.9 1212.8 383.9 1213.7 386.9 1214.7 389.9 1215.7 392.9 1216.6 395.9 1217.3 398.9 1217.8 402 1218.0 405 1218.0 408 1217.7 411 1217.2 414 1216.6 417 1215.8 420 1215.1 423 1214.3 426 1213.7 429 1213.2 432 1212.9 435.1 1212.7 438.1 1212.8 441.1 1213.0 444.1 1213.4 447.1 1213.9 450.1 1214.4 453.1 1214.9 456.1 1215.4 459.1 1215.8 462.1 1216.1 465.1 1216.2 468.2 1216.3 471.2 1216.2 474.2 1216.1 477.2 1215.8 480.2 1215.6 483.2 1215.3" stroke="#0a0a0a" stroke-width="3.6"/>
<path d="M188.3 1250.2 191.3 1250.5 194.3 1250.8 197.3 1251.1 200.3 1251.3 203.3 1251.5 206.4 1251.6 209.4 1251.6 212.4 1251.5 215.4 1251.3 218.4 1250.9 221.4 1250.5 224.4 1250.0 227.4 1249.5 230.4 1249.0 233.4 1248.6 236.4 1248.3 239.5 1248.1 242.5 1248.1 245.5 1248.4 248.5 1248.8 251.5 1249.4 254.5 1250.1 257.5 1250.8 260.5 1251.6 263.5 1252.3 266.5 1252.9 269.5 1253.2 272.6 1253.4 275.6 1253.3 278.6 1252.9 281.6 1252.3 284.6 1251.5 287.6 1250.6 290.6 1249.6 293.6 1248.6 296.6 1247.7 299.6 1247.0 302.6 1246.6 305.7 1246.5 308.7 1246.7 311.7 1247.1 314.7 1247.9 317.7 1248.9 320.7 1250.0 323.7 1251.1 326.7 1252.2 329.7 1253.2 332.7 1253.9 335.8 1254.3 338.8 1254.4 341.8 1254.1 344.8 1253.6 347.8 1252.7 350.8 1251.7 353.8 1250.6 356.8 1249.4 359.8 1248.4 362.8 1247.5 365.8 1246.9 368.9 1246.5 371.9 1246.5 374.9 1246.8 377.9 1247.4 380.9 1248.2 383.9 1249.1 386.9 1250.1 389.9 1251.1 392.9 1252.0 395.9 1252.7 398.9 1253.2 402 1253.4 405 1253.4 408 1253.1 411 1252.6 414 1251.9 417 1251.2 420 1250.4 423 1249.7 426 1249.1 429 1248.6 432 1248.2 435.1 1248.1 438.1 1248.2 441.1 1248.4 444.1 1248.8 447.1 1249.2 450.1 1249.7 453.1 1250.2 456.1 1250.7 459.1 1251.1 462.1 1251.4 465.1 1251.6 468.2 1251.7 471.2 1251.6 474.2 1251.4 477.2 1251.2 480.2 1250.9 483.2 1250.6" stroke="#0a0a0a" stroke-width="3.6"/>
<path d="M188.3 1285.6 191.3 1285.8 194.3 1286.1 197.3 1286.3 200.3 1286.5 203.3 1286.7 206.4 1286.8 209.4 1286.8 212.4 1286.7 215.4 1286.5 218.4 1286.2 221.4 1285.8 224.4 1285.4 227.4 1285.0 230.4 1284.6 233.4 1284.2 236.4 1284.0 239.5 1283.8 242.5 1283.9 245.5 1284.1 248.5 1284.4 251.5 1284.9 254.5 1285.5 257.5 1286.1 260.5 1286.7 263.5 1287.3 266.5 1287.8 269.5 1288.1 272.6 1288.2 275.6 1288.2 278.6 1287.9 281.6 1287.4 284.6 1286.7 287.6 1285.9 290.6 1285.1 293.6 1284.3 296.6 1283.5 299.6 1283.0 302.6 1282.6 305.7 1282.5 308.7 1282.6 311.7 1283.0 314.7 1283.7 317.7 1284.5 320.7 1285.4 323.7 1286.4 326.7 1287.3 329.7 1288.0 332.7 1288.6 335.8 1289.0 338.8 1289.1 341.8 1288.8 344.8 1288.4 347.8 1287.7 350.8 1286.8 353.8 1285.9 356.8 1284.9 359.8 1284.1 362.8 1283.3 365.8 1282.8 368.9 1282.5 371.9 1282.5 374.9 1282.8 377.9 1283.2 380.9 1283.9 383.9 1284.7 386.9 1285.5 389.9 1286.3 392.9 1287.0 395.9 1287.6 398.9 1288.0 402 1288.2 405 1288.2 408 1288.0 411 1287.6 414 1287.0 417 1286.4 420 1285.8 423 1285.2 426 1284.6 429 1284.2 432 1283.9 435.1 1283.8 438.1 1283.9 441.1 1284.1 444.1 1284.4 447.1 1284.8 450.1 1285.2 453.1 1285.6 456.1 1286.0 459.1 1286.3 462.1 1286.6 465.1 1286.7 468.2 1286.8 471.2 1286.7 474.2 1286.6 477.2 1286.4 480.2 1286.2 483.2 1285.9" stroke="#0a0a0a" stroke-width="3.6"/>
</g>
<g id="panelb" clip-path="url(#clipb)">
<g filter="url(#jetB)">
<rect x="647.5" y="38.7" width="417.70000000000005" height="474.90000000000003" fill="#000"/>
<ellipse cx="803" cy="92" rx="47.6" ry="61.9" fill="url(#gw)" opacity="0.100"/>
<ellipse cx="842" cy="104" rx="52.4" ry="23.8" fill="url(#gw)" opacity="0.080" transform="rotate(-20 842 104)"/>
<ellipse cx="788" cy="150" rx="23.8" ry="71.4" fill="url(#gw)" opacity="0.075"/>
<ellipse cx="790" cy="205" rx="52.4" ry="23.8" fill="url(#gw)" opacity="0.080"/>
<ellipse cx="760" cy="190" rx="23.8" ry="59.5" fill="url(#gw)" opacity="0.065" transform="rotate(20 760 190)"/>
<ellipse cx="705" cy="270" rx="19.0" ry="71.4" fill="url(#gw)" opacity="0.085"/>
<ellipse cx="690" cy="320" rx="23.8" ry="95.2" fill="url(#gw)" opacity="0.070"/>
<ellipse cx="880" cy="232" rx="61.9" ry="28.6" fill="url(#gw)" opacity="0.100"/>
<ellipse cx="930" cy="215" rx="23.8" ry="71.4" fill="url(#gw)" opacity="0.100"/>
<ellipse cx="965" cy="135" rx="52.4" ry="23.8" fill="url(#gw)" opacity="0.085"/>
<ellipse cx="940" cy="290" rx="52.4" ry="16.7" fill="url(#gw)" opacity="0.100" transform="rotate(-20 940 290)"/>
<ellipse cx="880" cy="285" rx="47.6" ry="19.0" fill="url(#gw)" opacity="0.080" transform="rotate(15 880 285)"/>
<ellipse cx="850" cy="420" rx="142.9" ry="23.8" fill="url(#gw)" opacity="0.065" transform="rotate(5 850 420)"/>
<ellipse cx="990" cy="420" rx="95.2" ry="28.6" fill="url(#gw)" opacity="0.080" transform="rotate(15 990 420)"/>
<ellipse cx="735" cy="477" rx="142.9" ry="10.7" fill="url(#gw)" opacity="0.150"/>
<ellipse cx="1000" cy="252" rx="95.2" ry="28.6" fill="url(#gw)" opacity="0.110"/>
<ellipse cx="745" cy="345" rx="23.8" ry="33.3" fill="url(#gw)" opacity="0.075"/>
<ellipse cx="820" cy="340" rx="33.3" ry="23.8" fill="url(#gw)" opacity="0.070"/>
<ellipse cx="1030" cy="290" rx="19.0" ry="47.6" fill="url(#gw)" opacity="0.080"/>
<ellipse cx="686" cy="186" rx="21.4" ry="47.6" fill="url(#gw)" opacity="0.210" transform="rotate(-10 686 186)"/>
<ellipse cx="681" cy="150" rx="19.0" ry="52.4" fill="url(#gw)" opacity="0.120"/>
<ellipse cx="822" cy="190" rx="26.2" ry="38.1" fill="url(#gw)" opacity="0.200" transform="rotate(25 822 190)"/>
<ellipse cx="810" cy="133" rx="23.8" ry="28.6" fill="url(#gw)" opacity="0.110"/>
<ellipse cx="812" cy="206" rx="21.4" ry="21.4" fill="url(#gw)" opacity="0.150"/>
<ellipse cx="866" cy="152" rx="19.0" ry="23.8" fill="url(#gw)" opacity="0.150"/>
<ellipse cx="1031" cy="198" rx="16.7" ry="47.6" fill="url(#gw)" opacity="0.200"/>
<ellipse cx="1031" cy="128" rx="19.0" ry="38.1" fill="url(#gw)" opacity="0.125"/>
<ellipse cx="988" cy="256" rx="26.2" ry="21.4" fill="url(#gw)" opacity="0.190"/>
<ellipse cx="1025" cy="252" rx="33.3" ry="19.0" fill="url(#gw)" opacity="0.150"/>
<ellipse cx="760" cy="292" rx="76.2" ry="15.5" fill="url(#gw)" opacity="0.210"/>
<ellipse cx="760" cy="262" rx="11.9" ry="31.0" fill="url(#gw)" opacity="0.160"/>
<ellipse cx="803" cy="288" rx="38.1" ry="16.7" fill="url(#gw)" opacity="0.150" transform="rotate(20 803 288)"/>
<ellipse cx="830" cy="305" rx="38.1" ry="16.7" fill="url(#gw)" opacity="0.180" transform="rotate(25 830 305)"/>
<ellipse cx="885" cy="344" rx="33.3" ry="19.0" fill="url(#gw)" opacity="0.125" transform="rotate(20 885 344)"/>
<ellipse cx="902" cy="349" rx="31.0" ry="16.7" fill="url(#gw)" opacity="0.090"/>
<ellipse cx="832" cy="378" rx="57.1" ry="15.5" fill="url(#gw)" opacity="0.250" transform="rotate(-8 832 378)"/>
<ellipse cx="772" cy="348" rx="19.0" ry="21.4" fill="url(#gw)" opacity="0.150"/>
<ellipse cx="768" cy="428" rx="21.4" ry="21.4" fill="url(#gw)" opacity="0.250"/>
<ellipse cx="704" cy="416" rx="28.6" ry="10.7" fill="url(#gw)" opacity="0.200"/>
<ellipse cx="680" cy="349" rx="21.4" ry="14.3" fill="url(#gw)" opacity="0.190"/>
<ellipse cx="700" cy="446" rx="38.1" ry="11.9" fill="url(#gw)" opacity="0.160"/>
<ellipse cx="822" cy="458" rx="28.6" ry="19.0" fill="url(#gw)" opacity="0.150"/>
<ellipse cx="991" cy="300" rx="19.0" ry="38.1" fill="url(#gw)" opacity="0.250" transform="rotate(10 991 300)"/>
<ellipse cx="1034" cy="368" rx="11.9" ry="28.6" fill="url(#gw)" opacity="0.175"/>
<ellipse cx="1002" cy="464" rx="61.9" ry="10.7" fill="url(#gw)" opacity="0.165"/>
<ellipse cx="905" cy="439" rx="104.8" ry="9.5" fill="url(#gw)" opacity="0.090" transform="rotate(4 905 439)"/>
<ellipse cx="742" cy="231" rx="104.8" ry="66.7" fill="url(#gw)" opacity="0.080" transform="rotate(3 742 231)"/>
<ellipse cx="843" cy="157" rx="66.7" ry="61.9" fill="url(#gw)" opacity="0.080"/>
<ellipse cx="1017" cy="162" rx="61.9" ry="61.9" fill="url(#gw)" opacity="0.080"/>
<ellipse cx="865" cy="323" rx="76.2" ry="76.2" fill="url(#gw)" opacity="0.080"/>
<ellipse cx="777" cy="389" rx="100.0" ry="109.5" fill="url(#gw)" opacity="0.080" transform="rotate(32 777 389)"/>
<ellipse cx="777" cy="449" rx="128.6" ry="52.4" fill="url(#gw)" opacity="0.070" transform="rotate(3 777 449)"/>
<ellipse cx="1005" cy="342" rx="104.8" ry="85.7" fill="url(#gw)" opacity="0.080" transform="rotate(38 1005 342)"/>
<g filter="url(#blurB8)">
<g opacity="0.235" fill="#fff">
<ellipse cx="742" cy="231" rx="38" ry="21" transform="rotate(3 742 231)"/>
<ellipse cx="699" cy="209" rx="19" ry="17" transform="rotate(28 699 209)"/>
</g>
<g opacity="0.235" fill="#fff">
<ellipse cx="843" cy="157" rx="21" ry="19"/>
</g>
<g opacity="0.235" fill="#fff">
<ellipse cx="1018" cy="162" rx="20" ry="19" transform="rotate(-25 1018 162)"/>
</g>
<g opacity="0.235" fill="#fff">
<ellipse cx="865" cy="323" rx="24" ry="25"/>
</g>
<g opacity="0.235" fill="#fff">
<ellipse cx="778" cy="387" rx="32" ry="35" transform="rotate(32 778 387)"/>
</g>
<g opacity="0.235" fill="#fff">
<ellipse cx="664" cy="412" rx="38" ry="22" transform="rotate(-15 664 412)"/>
</g>
<g opacity="0.235" fill="#fff">
<ellipse cx="777" cy="451" rx="46" ry="15" transform="rotate(3 777 451)"/>
</g>
<g opacity="0.235" fill="#fff">
<ellipse cx="1005" cy="341" rx="36" ry="25" transform="rotate(38 1005 341)"/>
</g>
</g>
<g filter="url(#blurB4)">
<g opacity="0.270" fill="#fff">
<ellipse cx="947" cy="337" rx="30" ry="10"/>
<ellipse cx="923.5" cy="298" rx="9" ry="45"/>
<ellipse cx="923.5" cy="275" rx="9.5" ry="22"/>
<ellipse cx="923.5" cy="318" rx="9.5" ry="24"/>
<ellipse cx="912" cy="345" rx="14" ry="8"/>
</g>
<g opacity="0.275" fill="#fff">
<ellipse cx="735" cy="441" rx="30" ry="9" transform="rotate(5 735 441)"/>
</g>
<g opacity="0.250" fill="#fff">
<ellipse cx="1016" cy="377" rx="8" ry="13" transform="rotate(-10 1016 377)"/>
</g>
</g>
<ellipse cx="750" cy="232" rx="57.1" ry="19.0" fill="url(#gw)" opacity="0.210" transform="rotate(3 750 232)"/>
<ellipse cx="842" cy="157" rx="21.4" ry="19.0" fill="url(#gw)" opacity="0.100"/>
<ellipse cx="1017" cy="162" rx="21.4" ry="21.4" fill="url(#gw)" opacity="0.110" transform="rotate(-25 1017 162)"/>
<ellipse cx="865" cy="323" rx="23.8" ry="28.6" fill="url(#gw)" opacity="0.275"/>
<ellipse cx="777" cy="388" rx="38.1" ry="45.2" fill="url(#gw)" opacity="0.650" transform="rotate(32 777 388)"/>
<ellipse cx="671" cy="412" rx="38.1" ry="26.2" fill="url(#gw)" opacity="0.625" transform="rotate(-15 671 412)"/>
<ellipse cx="786" cy="448" rx="52.4" ry="13.1" fill="url(#gw)" opacity="0.275" transform="rotate(3 786 448)"/>
<ellipse cx="1005" cy="340" rx="41.7" ry="25.0" fill="url(#gw)" opacity="0.700" transform="rotate(38 1005 340)"/>
<ellipse cx="1016" cy="370" rx="14.3" ry="23.8" fill="url(#gw)" opacity="0.200" transform="rotate(-10 1016 370)"/>
</g>
<path d="M796.1 68.5 V478" stroke="#fff" stroke-width="3" stroke-dasharray="10.6 14.4" fill="none"/>
<path d="M921.2 68.5 V478" stroke="#fff" stroke-width="3" stroke-dasharray="10.6 14.4" fill="none"/>
<path d="M677.2 105.0 L682.5 116.7 L686.7 130.0 L690.0 135.8 L693.3 126.7 L697.5 123.0 L701.7 133.3 L705.8 146.7 L710.0 145.0 L713.3 160.0 L717.5 191.7 L721.7 190.0 L725.8 201.7 L729.2 203.3 L732.5 211.7 L736.7 205.0 L741.7 218.3 L745.0 205.0 L748.3 176.7 L751.7 158.3 L755.0 146.7 L759.2 143.3 L762.5 132.5 L766.7 142.5 L770.0 133.3 L772.5 113.3 L776.7 104.2 L780.0 110.0 L783.3 105.0 L786.7 108.3 L790.8 115.8 L795.0 110.0 L798.3 100.0 L801.7 92.5 L805.0 95.8 L808.3 98.3 L813.3 108.3 L819.2 121.7 L822.5 137.5 L825.8 135.8 L830.0 160.0 L832.5 173.3 L835.8 169.2 L840.0 190.0 L844.7 208.3 L849.2 198.3 L855.0 186.7 L856.7 178.3 L859.2 187.5 L863.3 166.7 L867.5 143.3 L870.8 145.0 L875.8 132.5 L880.8 146.7 L885.8 135.0 L889.2 135.8 L891.7 128.3 L896.7 122.0 L903.3 128.3 L907.5 125.0 L910.8 101.7 L916.7 94.2 L923.3 85.0 L927.5 89.2 L929.2 86.7 L931.7 92.5 L934.2 85.8 L940.8 96.7 L945.8 115.0 L950.8 151.7 L956.7 166.7 L960.8 205.0 L963.3 210.8 L966.7 196.7 L969.2 195.8 L972.5 207.5 L974.7 209.7 L977.5 200.0 L982.5 153.3 L987.5 137.5 L990.8 141.7 L995.8 130.0 L1000.8 135.8 L1005.0 139.2 L1008.3 152.5 L1014.2 123.3 L1019.2 115.0 L1022.5 116.7 L1025.8 108.3 L1028.3 107.5 L1034.2 85.0 L1036.0 80.0" fill="none" stroke="#fff" stroke-width="2.1" stroke-linejoin="round" stroke-linecap="round"/>
</g>
<rect x="1069.5" y="110.8" width="29.9" height="317.5" fill="url(#cbB)"/>
<g id="panelc">
<clipPath id="clipc"><rect x="685.5" y="649.6" width="358.5" height="413.4"/></clipPath>
<rect x="685.5" y="649.6" width="358.5" height="413.4" fill="#472d88"/>
<g clip-path="url(#clipc)">
<rect x="708.7" y="791.5" width="6.8" height="10.7" fill="#4f74b9" shape-rendering="crispEdges"/><rect x="715.5" y="801.8" width="66.2" height="11.2" fill="#4f74b9" shape-rendering="crispEdges"/><rect x="722.2" y="812.6" width="59.5" height="11.8" fill="#4f74b9" shape-rendering="crispEdges"/>
<rect x="841.7" y="726.1" width="19.6" height="11.1" fill="#6cb868" shape-rendering="crispEdges"/><rect x="838.0" y="736.8" width="27.0" height="11.4" fill="#6cb868" shape-rendering="crispEdges"/><rect x="838.0" y="747.8" width="20.3" height="11.1" fill="#6cb868" shape-rendering="crispEdges"/>
<rect x="1010.8" y="736.8" width="23.4" height="11.4" fill="#f8e800" shape-rendering="crispEdges"/><rect x="1013.7" y="747.8" width="23.5" height="11.2" fill="#f8e800" shape-rendering="crispEdges"/>
<rect x="771.7" y="943.6" width="49.6" height="10.8" fill="#25b5b5" shape-rendering="crispEdges"/><rect x="758.3" y="954.0" width="63.0" height="12.0" fill="#25b5b5" shape-rendering="crispEdges"/><rect x="752.0" y="965.6" width="52.2" height="11.3" fill="#25b5b5" shape-rendering="crispEdges"/><rect x="752.0" y="976.5" width="50.2" height="10.7" fill="#25b5b5" shape-rendering="crispEdges"/><rect x="768.8" y="986.8" width="33.4" height="11.4" fill="#25b5b5" shape-rendering="crispEdges"/>
<rect x="748.3" y="1008.6" width="46.7" height="11.3" fill="#30a0dc" shape-rendering="crispEdges"/><rect x="748.3" y="1019.5" width="79.7" height="11.5" fill="#30a0dc" shape-rendering="crispEdges"/><rect x="785.3" y="1030.6" width="36.0" height="10.8" fill="#30a0dc" shape-rendering="crispEdges"/>
<rect x="685.0" y="965.6" width="3.7" height="11.3" fill="#5055a5" shape-rendering="crispEdges"/><rect x="685.0" y="976.5" width="13.7" height="10.7" fill="#5055a5" shape-rendering="crispEdges"/><rect x="685.0" y="986.8" width="23.7" height="11.4" fill="#5055a5" shape-rendering="crispEdges"/>
<rect x="848.0" y="889.0" width="40.0" height="11.2" fill="#d2c200" shape-rendering="crispEdges"/><rect x="851.7" y="899.8" width="40.0" height="11.5" fill="#d2c200" shape-rendering="crispEdges"/><rect x="868.3" y="910.9" width="23.4" height="11.3" fill="#d2c200" shape-rendering="crispEdges"/>
<rect x="994.0" y="878.4" width="17.1" height="11.0" fill="#ffcc15" shape-rendering="crispEdges"/><rect x="987.5" y="889.0" width="26.8" height="11.7" fill="#ffcc15" shape-rendering="crispEdges"/><rect x="977.6" y="900.3" width="42.8" height="11.6" fill="#ffcc15" shape-rendering="crispEdges"/><rect x="973.9" y="911.5" width="66.6" height="11.0" fill="#ffcc15" shape-rendering="crispEdges"/><rect x="994.0" y="922.1" width="51.0" height="11.2" fill="#ffcc15" shape-rendering="crispEdges"/><rect x="1003.7" y="932.9" width="30.6" height="11.0" fill="#ffcc15" shape-rendering="crispEdges"/><rect x="1007.0" y="943.5" width="27.3" height="11.2" fill="#ffcc15" shape-rendering="crispEdges"/><rect x="1011.1" y="954.3" width="29.4" height="11.5" fill="#ffcc15" shape-rendering="crispEdges"/>
<path d="M805 645.8 V1063" stroke="#fff" stroke-width="3.6" stroke-dasharray="10.4 14.6" fill="none"/>
<path d="M924.7 645.8 V1063" stroke="#fff" stroke-width="3.6" stroke-dasharray="10.4 14.6" fill="none"/>
<path d="M682.5 659.4 L684.5 658.8 L686.5 658.8 L688.5 659.6 L690.5 661.2 L692.5 663.4 L694.5 666.3 L696.5 669.9 L698.5 674.0 L700.5 678.8 L702.5 684.0 L704.5 689.7 L706.5 695.8 L708.5 702.2 L710.5 708.9 L712.5 715.7 L714.5 722.7 L716.5 729.7 L718.5 736.6 L720.5 743.4 L722.5 750.0 L724.5 756.3 L726.5 762.2 L728.5 767.8 L730.5 772.9 L732.5 777.4 L734.5 781.4 L736.5 784.7 L738.5 787.4 L740.5 789.4 L742.5 790.7 L744.5 791.3 L746.5 791.1 L748.5 790.2 L750.5 788.6 L752.5 786.2 L754.5 783.2 L756.5 779.6 L758.5 775.3 L760.5 770.5 L762.5 765.2 L764.5 759.5 L766.5 753.3 L768.5 746.9 L770.5 740.2 L772.5 733.3 L774.5 726.4 L776.5 719.4 L778.5 712.5 L780.5 705.7 L782.5 699.2 L784.5 692.9 L786.5 687.0 L788.5 681.5 L790.5 676.5 L792.5 672.0 L794.5 668.1 L796.5 664.8 L798.5 662.3 L800.5 660.3 L802.5 659.2 L804.5 658.7 L806.5 659.0 L808.5 660.0 L810.5 661.7 L812.5 664.1 L814.5 667.2 L816.5 671.0 L818.5 675.3 L820.5 680.2 L822.5 685.6 L824.5 691.4 L826.5 697.6 L828.5 704.0 L830.5 710.8 L832.5 717.6 L834.5 724.6 L836.5 731.6 L838.5 738.5 L840.5 745.2 L842.5 751.7 L844.5 757.9 L846.5 763.8 L848.5 769.2 L850.5 774.2 L852.5 778.6 L854.5 782.4 L856.5 785.6 L858.5 788.1 L860.5 789.9 L862.5 790.9 L864.5 791.3 L866.5 790.9 L868.5 789.8 L870.5 788.0 L872.5 785.5 L874.5 782.3 L876.5 778.5 L878.5 774.1 L880.5 769.1 L882.5 763.7 L884.5 757.8 L886.5 751.6 L888.5 745.0 L890.5 738.3 L892.5 731.4 L894.5 724.4 L896.5 717.5 L898.5 710.6 L900.5 703.9 L902.5 697.4 L904.5 691.2 L906.5 685.4 L908.5 680.1 L910.5 675.2 L912.5 670.9 L914.5 667.1 L916.5 664.1 L918.5 661.7 L920.5 660.0 L922.5 659.0 L924.5 658.7 L926.5 659.2 L928.5 660.4 L930.5 662.3 L932.5 664.9 L934.5 668.2 L936.5 672.1 L938.5 676.6 L940.5 681.6 L942.5 687.1 L944.5 693.0 L946.5 699.3 L948.5 705.9 L950.5 712.6 L952.5 719.6 L954.5 726.5 L956.5 733.5 L958.5 740.3 L960.5 747.0 L962.5 753.5 L964.5 759.6 L966.5 765.3 L968.5 770.6 L970.5 775.4 L972.5 779.7 L974.5 783.3 L976.5 786.3 L978.5 788.6 L980.5 790.2 L982.5 791.1 L984.5 791.3 L986.5 790.7 L988.5 789.4 L990.5 787.4 L992.5 784.7 L994.5 781.3 L996.5 777.3 L998.5 772.8 L1000.5 767.7 L1002.5 762.1 L1004.5 756.1 L1006.5 749.8 L1008.5 743.2 L1010.5 736.4 L1012.5 729.5 L1014.5 722.5 L1016.5 715.6 L1018.5 708.7 L1020.5 702.1 L1022.5 695.7 L1024.5 689.6 L1026.5 683.9 L1028.5 678.7 L1030.5 673.9 L1032.5 669.8 L1034.5 666.2 L1036.5 663.3 L1038.5 661.1 L1040.5 659.6 L1042.5 658.8 L1044.5 658.8 L1046.5 659.4" fill="none" stroke="#fff" stroke-width="2.4" stroke-linejoin="round"/>
<ellipse cx="744" cy="812.5" rx="3.5" ry="6.3" fill="#e81e27"/>
<ellipse cx="850.5" cy="744.5" rx="3.5" ry="6.3" fill="#e81e27"/>
<ellipse cx="1025.2" cy="745.8" rx="3.5" ry="6.3" fill="#e81e27"/>
<ellipse cx="783.3" cy="971.7" rx="3.5" ry="6.3" fill="#e81e27"/>
<ellipse cx="786.8" cy="1020.5" rx="3.5" ry="6.3" fill="#e81e27"/>
<ellipse cx="693.3" cy="985.3" rx="3.5" ry="6.3" fill="#e81e27"/>
<ellipse cx="872.5" cy="905.6" rx="3.5" ry="6.3" fill="#e81e27"/>
<ellipse cx="1015.4" cy="926" rx="3.5" ry="6.3" fill="#e81e27"/>
</g>
<rect x="873.3" y="928.8" width="4.1" height="150" fill="#e81e27"/>
<path d="M868 1076.7 L882.6 1076.7 L875.3 1090.6 Z" fill="#e81e27"/>
</g>
<g id="labels">
<text x="46" y="45.8" font-size="60" font-weight="bold" font-style="normal" fill="#1a1a1a" text-anchor="start"  >a</text>
<text x="572.5" y="44" font-size="60" font-weight="bold" font-style="normal" fill="#1a1a1a" text-anchor="start"  >b</text>
<text x="575" y="603.7" font-size="60" font-weight="bold" font-style="normal" fill="#1a1a1a" text-anchor="start"  >c</text>
<text x="243" y="95" font-size="37.7" font-weight="normal" font-style="normal" fill="#2a1538" text-anchor="start"  >Theta CSD</text>
<text x="207" y="163.3" font-size="33" font-weight="normal" font-style="normal" fill="#222" text-anchor="start"  >Sink</text>
<text x="378" y="163.3" font-size="33" font-weight="normal" font-style="normal" fill="#222" text-anchor="start"  >Source</text>
<text x="52" y="482" font-size="33" font-weight="normal" font-style="italic" fill="#222" text-anchor="start"  >or</text>
<text x="51.5" y="557" font-size="33" font-weight="normal" font-style="italic" fill="#ffffff" text-anchor="start"  >pyr</text>
<text x="51.5" y="710" font-size="33" font-weight="normal" font-style="italic" fill="#222" text-anchor="start"  >rad</text>
<text x="54.5" y="856.3" font-size="33" font-weight="normal" font-style="italic" fill="#222" text-anchor="start"  >l-m</text>
<text x="0" y="0" font-size="44" font-weight="bold" font-style="italic" fill="#1a1a1a" text-anchor="start" transform="translate(723 48) scale(0.82 1)" stroke="#1a1a1a" stroke-width="0.7">θ cycle-nested γ</text>
<text x="672.5" y="108.3" font-size="30" font-weight="normal" font-style="normal" fill="#111" text-anchor="end"  >180</text>
<text x="672.5" y="199.0" font-size="30" font-weight="normal" font-style="normal" fill="#111" text-anchor="end"  >140</text>
<text x="672.5" y="288.8" font-size="30" font-weight="normal" font-style="normal" fill="#111" text-anchor="end"  >100</text>
<text x="672.5" y="379.3" font-size="30" font-weight="normal" font-style="normal" fill="#111" text-anchor="end"  >60</text>
<text x="672.5" y="469.3" font-size="30" font-weight="normal" font-style="normal" fill="#111" text-anchor="end"  >20</text>
<text x="0" y="0" font-size="37" font-weight="bold" font-style="normal" fill="#1a1a1a" text-anchor="middle" transform="translate(604.8 282) rotate(-90) scale(0.82 1)" stroke="#1a1a1a" stroke-width="0.6">Frequency (Hz)</text>
<text x="1059" y="92.7" font-size="29" font-weight="normal" font-style="normal" fill="#111" text-anchor="start"  >1.5</text>
<text x="1059" y="456.2" font-size="29" font-weight="normal" font-style="normal" fill="#111" text-anchor="start"  >0.5</text>
<text x="0" y="0" font-size="38" font-weight="bold" font-style="normal" fill="#1a1a1a" text-anchor="middle" transform="translate(1176 272.5) rotate(90) scale(0.82 1)" stroke="#1a1a1a" stroke-width="0.6">CSD amplitude</text>
<text x="0" y="0" font-size="38" font-weight="bold" font-style="normal" fill="#1a1a1a" text-anchor="middle" transform="translate(1127 290) rotate(90) scale(0.82 1)" stroke="#1a1a1a" stroke-width="0.6">(mV/mm<tspan font-size="22" dy="-12">2</tspan><tspan dy="12">)</tspan></text>
<text x="690.6" y="520.9" font-size="31" font-weight="normal" font-style="normal" fill="#2a1538" text-anchor="start"  >Gamma CSD</text>
<text x="690.6" y="553.5" font-size="31" font-weight="normal" font-style="normal" fill="#2a1538" text-anchor="start"  >(CA1 str. rad)</text>
<text x="970.8" y="525" font-size="31" font-weight="normal" font-style="normal" fill="#111" text-anchor="start"  >50 ms</text>
<rect x="982" y="489.3" width="52.3" height="3" fill="#111"/>
<text x="0" y="0" font-size="44.3" font-weight="bold" font-style="italic" fill="#1a1a1a" text-anchor="start" transform="translate(677 625.8) scale(0.82 1)" stroke="#1a1a1a" stroke-width="0.7">γ elements detection</text>
<text x="0" y="0" font-size="37" font-weight="bold" font-style="normal" fill="#1a1a1a" text-anchor="middle" transform="translate(813.5 1109) scale(0.82 1)" stroke="#1a1a1a" stroke-width="0.6">θ</text>
<text x="0" y="0" font-size="37" font-weight="bold" font-style="normal" fill="#1a1a1a" text-anchor="middle" transform="translate(939.5 1101) scale(0.82 1)" stroke="#1a1a1a" stroke-width="0.6">γ</text>
<rect x="762.8" y="1114.4" width="100.2" height="4" fill="#1a1a1a"/>
<rect x="885.2" y="1114.4" width="104" height="4" fill="#1a1a1a"/>
<rect x="763.3" y="1125.7" width="30.4" height="24" fill="#be1e2d" stroke="#3a3a3a" stroke-width="1"/>
<rect x="798.3" y="1125.7" width="30.6" height="24" fill="#f15a29" stroke="#3a3a3a" stroke-width="1"/>
<rect x="833.5" y="1125.7" width="30.6" height="24" fill="#fbb040" stroke="#3a3a3a" stroke-width="1"/>
<rect x="887.6" y="1125.7" width="30.7" height="24" fill="#006838" stroke="#3a3a3a" stroke-width="1"/>
<rect x="922.8" y="1125.7" width="30.7" height="24" fill="#39b54a" stroke="#3a3a3a" stroke-width="1"/>
<rect x="957.8" y="1125.7" width="30.9" height="24" fill="#d7df23" stroke="#3a3a3a" stroke-width="1"/>
<text x="0" y="0" font-size="28.5" font-weight="normal" font-style="normal" fill="#1a1a1a" text-anchor="end" transform="translate(792.2 1158.5) rotate(-90)" >Power</text>
<text x="0" y="0" font-size="28.5" font-weight="normal" font-style="normal" fill="#1a1a1a" text-anchor="end" transform="translate(827.4 1158.5) rotate(-90)" >Freq</text>
<text x="0" y="0" font-size="28.5" font-weight="normal" font-style="normal" fill="#1a1a1a" text-anchor="end" transform="translate(862.6 1158.5) rotate(-90)" >Asym</text>
<text x="0" y="0" font-size="28.5" font-weight="normal" font-style="normal" fill="#1a1a1a" text-anchor="end" transform="translate(916.8 1158.5) rotate(-90)" >Power</text>
<text x="0" y="0" font-size="28.5" font-weight="normal" font-style="normal" fill="#1a1a1a" text-anchor="end" transform="translate(952 1158.5) rotate(-90)" >Freq</text>
<text x="0" y="0" font-size="28.5" font-weight="normal" font-style="normal" fill="#1a1a1a" text-anchor="end" transform="translate(987.2 1158.5) rotate(-90)" >Phase</text>
<text x="690.3" y="1279.7" font-size="37.9" font-weight="normal" font-style="normal" fill="#e8202a" text-anchor="start"  >Vector of γ-θ features</text>
</g>
</svg>
</body></html>
